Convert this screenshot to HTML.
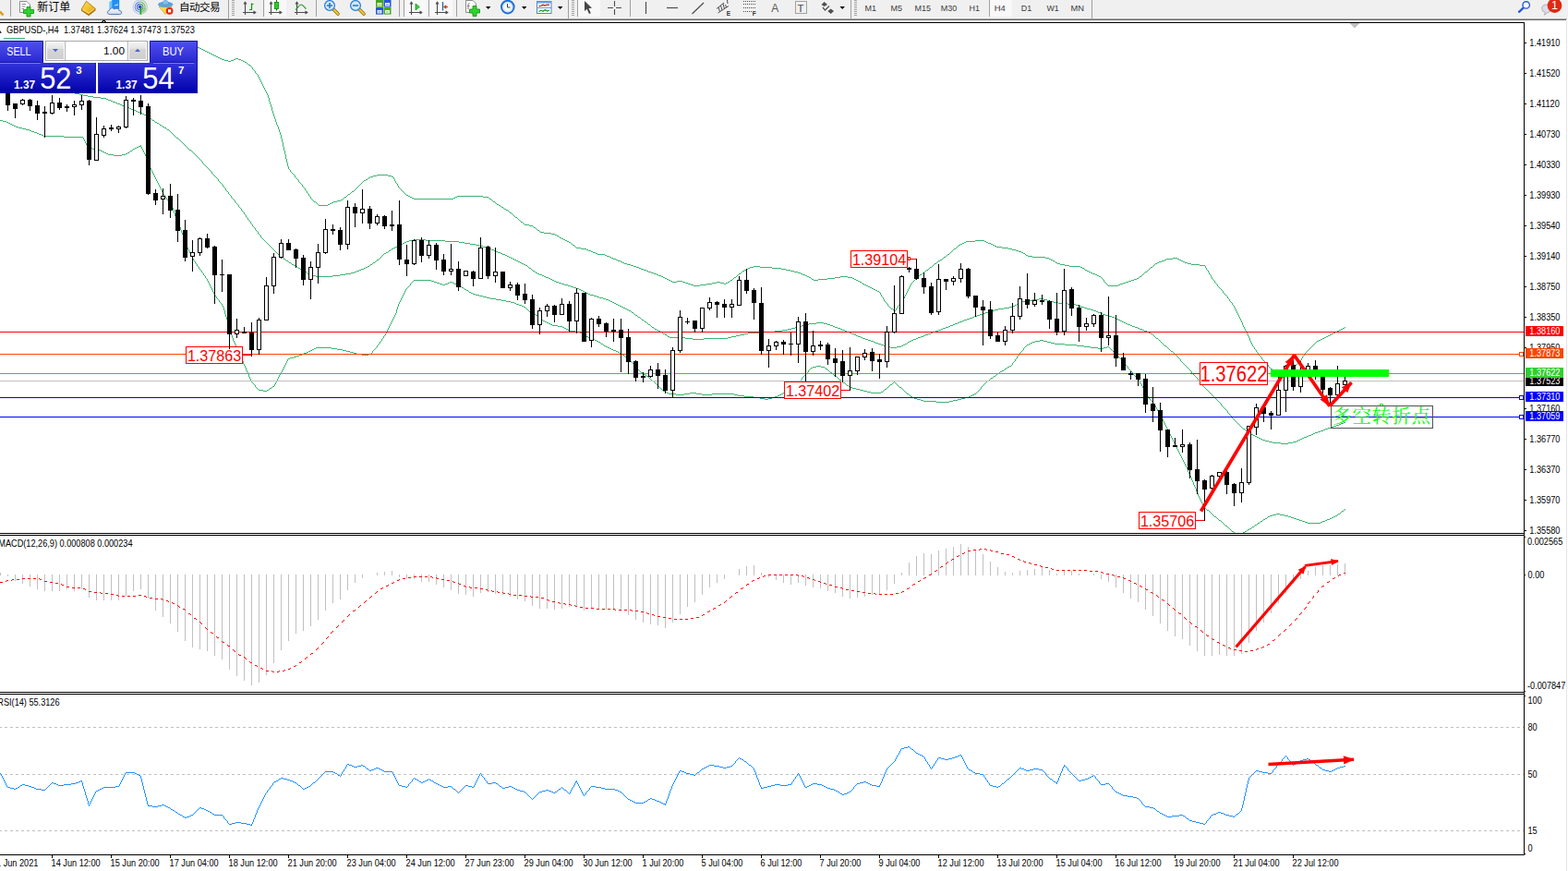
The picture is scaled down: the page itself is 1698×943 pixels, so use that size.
<!DOCTYPE html><html><head><meta charset="utf-8"><title>GBPUSD H4</title><style>html,body{margin:0;padding:0;background:#fff}body{width:1698px;height:943px;overflow:hidden;position:relative}</style></head><body><svg width="1698" height="943" viewBox="0 0 1698 943" font-family="Liberation Sans, sans-serif" style="position:absolute;left:0;top:0;display:block">
<rect x="0" y="0" width="1698" height="943" fill="#fff" />
<g shape-rendering="crispEdges">
<rect x="1696" y="22" width="1" height="921" fill="#e6e6e6" />
<rect x="4" y="41" width="23" height="1" fill="#3cb371" />
<path d="M214 51.5h2M216 52.5h2M218 53.5h2M220 54.5h2M222 55.5h2M224 56.5h2M226 57.5h2M228 58.5h2M230 59.5h2M232 60.5h2M234 61.5h2M236 62.5h2M238 63.5h2M255 63.5h3M240 64.5h3M253 64.5h2M258 64.5h3M243 65.5h4M250 65.5h3M261 65.5h2M247 66.5h3M263 66.5h2M265 67.5h2M269 70.5h2M408 189.5h12M404 190.5h4M420 190.5h4M401 191.5h3M424 191.5h2M399 192.5h2M396 194.5h2M394 195.5h2M381 207.5h2M377 210.5h2M440 211.5h2M442 212.5h2M495 212.5h28M373 213.5h2M444 213.5h2M493 213.5h2M523 213.5h6M446 214.5h2M491 214.5h2M448 215.5h43M530 215.5h2M369 216.5h2M365 217.5h4M340 218.5h2M361 218.5h4M534 218.5h2M359 219.5h2M357 220.5h2M355 221.5h2M538 221.5h2M345 222.5h10M540 222.5h2M543 224.5h2M546 226.5h2M548 227.5h2M552 230.5h2M558 235.5h2M564 240.5h2M568 243.5h5M573 244.5h4M578 246.5h2M582 249.5h2M585 251.5h4M589 252.5h8M597 253.5h4M601 254.5h2M603 255.5h2M606 257.5h2M608 258.5h2M610 259.5h2M612 260.5h2M1056 260.5h10M614 261.5h2M1046 261.5h10M1066 261.5h2M616 262.5h2M1044 262.5h2M1068 262.5h2M1042 263.5h2M1070 263.5h3M1040 264.5h2M1073 264.5h2M620 265.5h2M1038 265.5h2M1075 265.5h2M1077 266.5h2M1079 267.5h6M624 268.5h5M1085 268.5h7M629 269.5h6M1033 269.5h2M1092 269.5h4M635 270.5h2M1096 270.5h4M637 271.5h3M1100 271.5h3M640 272.5h2M1103 272.5h3M642 273.5h3M1106 273.5h2M645 274.5h2M1108 274.5h2M647 275.5h8M1026 275.5h2M655 276.5h2M1111 276.5h2M657 277.5h3M1113 277.5h5M660 278.5h2M1022 278.5h2M1118 278.5h14M662 279.5h2M1132 279.5h4M1270 279.5h5M664 280.5h3M1136 280.5h2M1263 280.5h7M1275 280.5h2M667 281.5h2M1018 281.5h2M1138 281.5h2M1261 281.5h2M1277 281.5h2M669 282.5h3M1016 282.5h2M1140 282.5h2M1258 282.5h3M1279 282.5h2M672 283.5h2M1255 283.5h3M1281 283.5h2M674 284.5h2M1143 284.5h2M1253 284.5h2M1283 284.5h3M676 285.5h3M1012 285.5h2M1145 285.5h3M1251 285.5h2M1286 285.5h4M679 286.5h4M1148 286.5h5M1290 286.5h9M683 287.5h3M1153 287.5h5M1299 287.5h6M686 288.5h3M816 288.5h7M1158 288.5h12M689 289.5h3M812 289.5h4M823 289.5h13M1007 289.5h2M1170 289.5h2M1246 289.5h2M692 290.5h2M810 290.5h2M836 290.5h10M1172 290.5h2M694 291.5h3M808 291.5h2M846 291.5h5M697 292.5h3M806 292.5h2M851 292.5h5M1003 292.5h2M1175 292.5h2M700 293.5h2M804 293.5h2M856 293.5h4M1177 293.5h2M702 294.5h3M860 294.5h4M1179 294.5h2M1240 294.5h2M705 295.5h3M864 295.5h3M999 295.5h2M1181 295.5h2M708 296.5h3M800 296.5h2M867 296.5h2M1183 296.5h3M711 297.5h2M869 297.5h3M996 297.5h2M1186 297.5h2M713 298.5h3M872 298.5h2M1188 298.5h2M716 299.5h2M874 299.5h2M910 299.5h8M1190 299.5h2M1234 299.5h2M718 300.5h2M795 300.5h2M876 300.5h2M904 300.5h6M918 300.5h5M720 301.5h2M896 301.5h8M923 301.5h2M1231 301.5h2M722 302.5h2M879 302.5h2M886 302.5h10M925 302.5h2M1228 302.5h3M724 303.5h2M791 303.5h2M881 303.5h5M927 303.5h2M1225 303.5h3M726 304.5h2M733 304.5h6M929 304.5h2M1222 304.5h3M728 305.5h5M739 305.5h3M776 305.5h4M788 305.5h2M931 305.5h2M1219 305.5h3M742 306.5h3M771 306.5h5M780 306.5h4M786 306.5h2M1216 306.5h3M745 307.5h3M765 307.5h6M784 307.5h2M934 307.5h2M1213 307.5h3M748 308.5h3M758 308.5h7M936 308.5h2M1211 308.5h2M751 309.5h7M938 309.5h2M1200 309.5h11M940 310.5h2M942 311.5h2M944 312.5h2M946 313.5h2M948 314.5h2M950 315.5h2M965 334.5h2M967 335.5h2M1454 355.5h2M1452 356.5h2M1450 357.5h2M1448 358.5h2M1446 359.5h2M1444 360.5h2M1442 361.5h2M1440 362.5h2M1438 363.5h2M1436 364.5h2M1434 365.5h2M1432 366.5h2M1430 367.5h2M1428 368.5h2M1426 369.5h2M1400 397.5h2M1376 399.5h2M1378 400.5h2M1396 400.5h2M1380 401.5h2M1382 402.5h3M1385 403.5h2M1392 403.5h2M1387 404.5h2M1389 405.5h2M267.5 68v1M268.5 69v1M271.5 71v1M272.5 72v1M273.5 73v2M274.5 75v1M275.5 76v1M276.5 77v2M277.5 79v1M278.5 80v1M279.5 81v2M280.5 83v2M281.5 85v2M282.5 87v2M283.5 89v2M284.5 91v2M285.5 93v2M286.5 95v2M287.5 97v2M288.5 99v2M289.5 101v2M290.5 103v3M291.5 106v4M292.5 110v3M293.5 113v3M294.5 116v4M295.5 120v3M296.5 123v3M297.5 126v3M298.5 129v3M299.5 132v3M300.5 135v2M301.5 137v3M302.5 140v3M303.5 143v3M304.5 146v4M305.5 150v4M306.5 154v5M307.5 159v4M308.5 163v4M309.5 167v5M310.5 172v4M311.5 176v4M312.5 180v3M313.5 183v1M314.5 184v2M315.5 186v1M316.5 187v1M317.5 188v1M318.5 189v1M319.5 190v2M320.5 192v1M321.5 193v1M322.5 194v1M323.5 195v2M324.5 197v1M325.5 198v1M326.5 199v1M327.5 200v2M328.5 202v1M329.5 203v1M330.5 204v2M331.5 206v1M332.5 207v2M333.5 209v1M334.5 210v2M335.5 212v1M336.5 213v2M337.5 215v1M338.5 216v1M339.5 217v1M342.5 219v1M343.5 220v1M344.5 221v1M371.5 215v1M372.5 214v1M375.5 212v1M376.5 211v1M379.5 209v1M380.5 208v1M383.5 206v1M384.5 205v1M385.5 204v1M386.5 203v1M387.5 202v1M388.5 201v1M389.5 200v1M390.5 199v1M391.5 198v1M392.5 197v1M393.5 196v1M398.5 193v1M426.5 192v2M427.5 194v2M428.5 196v2M429.5 198v1M430.5 199v2M431.5 201v2M432.5 203v1M433.5 204v1M434.5 205v1M435.5 206v1M436.5 207v1M437.5 208v1M438.5 209v1M439.5 210v1M529.5 214v1M532.5 216v1M533.5 217v1M536.5 219v1M537.5 220v1M542.5 223v1M545.5 225v1M550.5 228v1M551.5 229v1M554.5 231v1M555.5 232v1M556.5 233v1M557.5 234v1M560.5 236v1M561.5 237v1M562.5 238v1M563.5 239v1M566.5 241v1M567.5 242v1M577.5 245v1M580.5 247v1M581.5 248v1M584.5 250v1M605.5 256v1M618.5 263v1M619.5 264v1M622.5 266v1M623.5 267v1M790.5 304v1M793.5 302v1M794.5 301v1M797.5 299v1M798.5 298v1M799.5 297v1M802.5 295v1M803.5 294v1M878.5 301v1M933.5 306v1M952.5 316v1M953.5 317v2M954.5 319v2M955.5 321v1M956.5 322v2M957.5 324v2M958.5 326v1M959.5 327v1M960.5 328v1M961.5 329v2M962.5 331v1M963.5 332v1M964.5 333v1M969.5 336v1M970.5 334v2M971.5 333v1M972.5 331v2M973.5 330v1M974.5 329v1M975.5 327v2M976.5 326v1M977.5 324v2M978.5 323v1M979.5 321v2M980.5 319v2M981.5 317v2M982.5 315v2M983.5 313v2M984.5 311v2M985.5 309v2M986.5 307v2M987.5 306v1M988.5 305v1M989.5 304v1M990.5 303v1M991.5 302v1M992.5 301v1M993.5 300v1M994.5 299v1M995.5 298v1M998.5 296v1M1001.5 294v1M1002.5 293v1M1005.5 291v1M1006.5 290v1M1009.5 288v1M1010.5 287v1M1011.5 286v1M1014.5 284v1M1015.5 283v1M1020.5 280v1M1021.5 279v1M1024.5 277v1M1025.5 276v1M1028.5 274v1M1029.5 273v1M1030.5 272v1M1031.5 271v1M1032.5 270v1M1035.5 268v1M1036.5 267v1M1037.5 266v1M1110.5 275v1M1142.5 283v1M1174.5 291v1M1192.5 300v1M1193.5 301v1M1194.5 302v1M1195.5 303v2M1196.5 305v1M1197.5 306v1M1198.5 307v1M1199.5 308v1M1233.5 300v1M1236.5 298v1M1237.5 297v1M1238.5 296v1M1239.5 295v1M1242.5 293v1M1243.5 292v1M1244.5 291v1M1245.5 290v1M1248.5 288v1M1249.5 287v1M1250.5 286v1M1305.5 288v2M1306.5 290v2M1307.5 292v1M1308.5 293v2M1309.5 295v2M1310.5 297v1M1311.5 298v2M1312.5 300v2M1313.5 302v1M1314.5 303v1M1315.5 304v2M1316.5 306v1M1317.5 307v1M1318.5 308v2M1319.5 310v1M1320.5 311v1M1321.5 312v1M1322.5 313v1M1323.5 314v1M1324.5 315v2M1325.5 317v1M1326.5 318v1M1327.5 319v1M1328.5 320v1M1329.5 321v2M1330.5 323v1M1331.5 324v2M1332.5 326v1M1333.5 327v1M1334.5 328v2M1335.5 330v1M1336.5 331v2M1337.5 333v2M1338.5 335v2M1339.5 337v2M1340.5 339v2M1341.5 341v2M1342.5 343v2M1343.5 345v2M1344.5 347v2M1345.5 349v3M1346.5 352v2M1347.5 354v2M1348.5 356v2M1349.5 358v2M1350.5 360v2M1351.5 362v2M1352.5 364v2M1353.5 366v3M1354.5 369v2M1355.5 371v2M1356.5 373v2M1357.5 375v1M1358.5 376v2M1359.5 378v1M1360.5 379v2M1361.5 381v1M1362.5 382v2M1363.5 384v1M1364.5 385v1M1365.5 386v1M1366.5 387v2M1367.5 389v1M1368.5 390v1M1369.5 391v1M1370.5 392v1M1371.5 393v1M1372.5 394v1M1373.5 395v2M1374.5 397v1M1375.5 398v1M1391.5 404v1M1394.5 402v1M1395.5 401v1M1398.5 399v1M1399.5 398v1M1402.5 396v1M1403.5 395v1M1404.5 394v1M1405.5 393v1M1406.5 392v1M1407.5 391v1M1408.5 390v1M1409.5 388v2M1410.5 386v2M1411.5 385v1M1412.5 383v2M1413.5 382v1M1414.5 381v1M1415.5 380v1M1416.5 379v1M1417.5 378v1M1418.5 377v1M1419.5 376v1M1420.5 375v1M1421.5 374v1M1422.5 373v1M1423.5 372v1M1424.5 371v1M1425.5 370v1M1456.5 354v1" fill="none" stroke="#3cb371" stroke-width="1"/>
<path d="M0 85.5h3M3 86.5h6M9 87.5h5M14 88.5h6M20 89.5h5M25 90.5h6M31 91.5h5M36 92.5h5M41 93.5h6M47 94.5h5M52 95.5h6M58 96.5h5M63 97.5h4M67 98.5h5M72 99.5h5M77 100.5h4M81 101.5h5M86 102.5h4M90 103.5h5M95 104.5h6M101 105.5h8M109 106.5h6M115 107.5h2M117 108.5h3M120 109.5h2M122 110.5h3M125 111.5h2M127 112.5h3M130 113.5h2M132 114.5h3M135 115.5h2M137 116.5h3M140 117.5h2M142 118.5h3M145 119.5h2M147 120.5h2M149 121.5h3M152 122.5h2M154 123.5h2M156 124.5h2M158 125.5h2M161 127.5h2M165 130.5h2M168 132.5h2M170 133.5h2M173 135.5h2M176 137.5h2M178 138.5h2M181 140.5h2M191 149.5h2M205 162.5h2M448 259.5h13M443 260.5h5M461 260.5h21M440 261.5h3M482 261.5h15M438 262.5h2M497 262.5h6M436 263.5h2M503 263.5h6M434 264.5h2M509 264.5h6M432 265.5h2M515 265.5h4M430 266.5h2M519 266.5h4M428 267.5h2M523 267.5h4M426 268.5h2M527 268.5h3M424 269.5h2M530 269.5h2M532 270.5h3M421 271.5h2M535 271.5h2M537 272.5h2M418 273.5h2M539 273.5h3M416 274.5h2M542 274.5h2M544 275.5h3M547 276.5h2M549 277.5h2M304 278.5h2M551 278.5h2M553 279.5h2M307 280.5h2M555 280.5h2M408 281.5h2M557 281.5h2M310 282.5h2M559 282.5h2M561 283.5h2M313 284.5h2M404 284.5h2M563 284.5h2M565 285.5h2M316 286.5h2M401 286.5h2M567 286.5h2M318 287.5h2M569 287.5h2M320 288.5h2M398 288.5h2M396 289.5h2M323 290.5h2M394 290.5h2M573 290.5h2M325 291.5h2M391 291.5h3M389 292.5h2M328 293.5h2M386 293.5h3M577 293.5h2M330 294.5h2M384 294.5h2M380 295.5h4M580 295.5h2M333 296.5h2M374 296.5h6M582 296.5h2M335 297.5h3M368 297.5h6M584 297.5h3M338 298.5h4M360 298.5h8M587 298.5h2M342 299.5h18M589 299.5h2M591 300.5h3M594 301.5h2M596 302.5h2M598 303.5h2M600 304.5h2M602 305.5h3M605 306.5h3M608 307.5h3M611 308.5h4M615 309.5h3M618 310.5h3M621 311.5h3M624 312.5h3M627 313.5h2M629 314.5h2M631 315.5h2M633 316.5h2M635 317.5h2M637 318.5h2M639 319.5h4M643 320.5h3M646 321.5h3M649 322.5h4M653 323.5h3M1125 323.5h5M656 324.5h3M1118 324.5h7M1130 324.5h4M659 325.5h2M1112 325.5h6M1134 325.5h3M661 326.5h2M1107 326.5h5M1137 326.5h4M663 327.5h2M1105 327.5h2M1141 327.5h5M665 328.5h2M1103 328.5h2M1146 328.5h10M667 329.5h2M1101 329.5h2M1156 329.5h9M669 330.5h2M1099 330.5h2M1165 330.5h3M671 331.5h2M1097 331.5h2M1168 331.5h3M673 332.5h2M1093 332.5h4M1171 332.5h3M675 333.5h2M1087 333.5h6M1174 333.5h3M677 334.5h2M1081 334.5h6M1177 334.5h4M679 335.5h2M1077 335.5h4M1181 335.5h3M681 336.5h2M1074 336.5h3M1184 336.5h3M1071 337.5h3M1187 337.5h2M684 338.5h2M1067 338.5h4M1189 338.5h3M1064 339.5h3M1192 339.5h2M1061 340.5h3M1194 340.5h3M688 341.5h2M1058 341.5h3M1197 341.5h4M1055 342.5h3M1201 342.5h3M691 343.5h2M1053 343.5h2M1204 343.5h3M1050 344.5h3M1207 344.5h2M1047 345.5h3M1209 345.5h2M695 346.5h2M1044 346.5h3M1211 346.5h2M1042 347.5h2M1213 347.5h2M698 348.5h2M1039 348.5h3M1215 348.5h2M884 349.5h8M1037 349.5h2M1217 349.5h2M876 350.5h8M892 350.5h4M1034 350.5h3M1219 350.5h2M702 351.5h2M872 351.5h4M896 351.5h3M1032 351.5h2M1221 351.5h3M868 352.5h4M899 352.5h3M1029 352.5h3M1224 352.5h2M864 353.5h4M902 353.5h2M1027 353.5h2M1226 353.5h3M706 354.5h2M861 354.5h3M904 354.5h3M1024 354.5h3M1229 354.5h3M857 355.5h4M907 355.5h3M1021 355.5h3M1232 355.5h2M709 356.5h2M853 356.5h4M910 356.5h2M1019 356.5h2M1234 356.5h3M711 357.5h2M847 357.5h6M912 357.5h3M1016 357.5h3M1237 357.5h2M713 358.5h2M839 358.5h8M915 358.5h2M1013 358.5h3M1239 358.5h3M715 359.5h2M827 359.5h12M917 359.5h3M1010 359.5h3M1242 359.5h2M810 360.5h17M920 360.5h2M1008 360.5h2M1244 360.5h2M718 361.5h2M806 361.5h4M922 361.5h3M1005 361.5h3M1246 361.5h2M720 362.5h2M801 362.5h5M925 362.5h2M1002 362.5h3M797 363.5h4M927 363.5h2M1000 363.5h2M723 364.5h2M792 364.5h5M929 364.5h3M997 364.5h3M725 365.5h17M788 365.5h4M932 365.5h2M994 365.5h3M742 366.5h8M762 366.5h26M934 366.5h3M992 366.5h2M1252 366.5h2M750 367.5h12M937 367.5h3M989 367.5h3M940 368.5h3M987 368.5h2M943 369.5h3M985 369.5h2M946 370.5h2M983 370.5h2M948 371.5h3M951 372.5h3M980 372.5h2M954 373.5h3M978 373.5h2M957 374.5h4M976 374.5h2M1261 374.5h2M961 375.5h3M971 375.5h5M964 376.5h7M1268 380.5h2M1455 457.5h2M1452 458.5h3M1450 459.5h2M1447 460.5h3M1444 461.5h3M1441 462.5h3M1438 463.5h3M1346 464.5h2M1435 464.5h3M1433 465.5h2M1349 466.5h2M1430 466.5h3M1427 467.5h3M1424 468.5h3M1353 469.5h2M1422 469.5h2M1355 470.5h2M1420 470.5h2M1357 471.5h2M1417 471.5h3M1359 472.5h2M1415 472.5h2M1361 473.5h2M1412 473.5h3M1363 474.5h2M1410 474.5h2M1365 475.5h2M1408 475.5h2M1367 476.5h3M1406 476.5h2M1370 477.5h4M1404 477.5h2M1374 478.5h4M1400 478.5h4M1378 479.5h9M1395 479.5h5M1387 480.5h8M160.5 126v1M163.5 128v1M164.5 129v1M167.5 131v1M172.5 134v1M175.5 136v1M180.5 139v1M183.5 141v1M184.5 142v1M185.5 143v1M186.5 144v1M187.5 145v1M188.5 146v1M189.5 147v1M190.5 148v1M193.5 150v1M194.5 151v1M195.5 152v1M196.5 153v1M197.5 154v1M198.5 155v1M199.5 156v1M200.5 157v1M201.5 158v1M202.5 159v1M203.5 160v1M204.5 161v1M207.5 163v1M208.5 164v1M209.5 165v1M210.5 166v1M211.5 167v1M212.5 168v1M213.5 169v1M214.5 170v1M215.5 171v1M216.5 172v1M217.5 173v1M218.5 174v1M219.5 175v2M220.5 177v1M221.5 178v1M222.5 179v1M223.5 180v1M224.5 181v1M225.5 182v1M226.5 183v1M227.5 184v1M228.5 185v1M229.5 186v2M230.5 188v1M231.5 189v1M232.5 190v1M233.5 191v1M234.5 192v1M235.5 193v1M236.5 194v2M237.5 196v1M238.5 197v1M239.5 198v1M240.5 199v1M241.5 200v2M242.5 202v1M243.5 203v1M244.5 204v2M245.5 206v1M246.5 207v1M247.5 208v2M248.5 210v1M249.5 211v1M250.5 212v2M251.5 214v1M252.5 215v1M253.5 216v1M254.5 217v2M255.5 219v1M256.5 220v1M257.5 221v1M258.5 222v2M259.5 224v1M260.5 225v1M261.5 226v2M262.5 228v1M263.5 229v1M264.5 230v2M265.5 232v1M266.5 233v2M267.5 235v1M268.5 236v2M269.5 238v1M270.5 239v1M271.5 240v2M272.5 242v1M273.5 243v2M274.5 245v1M275.5 246v1M276.5 247v2M277.5 249v1M278.5 250v1M279.5 251v2M280.5 253v1M281.5 254v1M282.5 255v2M283.5 257v1M284.5 258v1M285.5 259v1M286.5 260v1M287.5 261v1M288.5 262v1M289.5 263v1M290.5 264v1M291.5 265v1M292.5 266v1M293.5 267v1M294.5 268v1M295.5 269v1M296.5 270v1M297.5 271v1M298.5 272v1M299.5 273v1M300.5 274v1M301.5 275v1M302.5 276v1M303.5 277v1M306.5 279v1M309.5 281v1M312.5 283v1M315.5 285v1M322.5 289v1M327.5 292v1M332.5 295v1M400.5 287v1M403.5 285v1M406.5 283v1M407.5 282v1M410.5 280v1M411.5 279v1M412.5 278v1M413.5 277v1M414.5 276v1M415.5 275v1M420.5 272v1M423.5 270v1M571.5 288v1M572.5 289v1M575.5 291v1M576.5 292v1M579.5 294v1M683.5 337v1M686.5 339v1M687.5 340v1M690.5 342v1M693.5 344v1M694.5 345v1M697.5 347v1M700.5 349v1M701.5 350v1M704.5 352v1M705.5 353v1M708.5 355v1M717.5 360v1M722.5 363v1M982.5 371v1M1248.5 362v1M1249.5 363v1M1250.5 364v1M1251.5 365v1M1254.5 367v1M1255.5 368v1M1256.5 369v1M1257.5 370v1M1258.5 371v1M1259.5 372v1M1260.5 373v1M1263.5 375v1M1264.5 376v1M1265.5 377v1M1266.5 378v1M1267.5 379v1M1270.5 381v1M1271.5 382v1M1272.5 383v1M1273.5 384v1M1274.5 385v1M1275.5 386v1M1276.5 387v1M1277.5 388v1M1278.5 389v2M1279.5 391v1M1280.5 392v1M1281.5 393v1M1282.5 394v1M1283.5 395v1M1284.5 396v1M1285.5 397v1M1286.5 398v1M1287.5 399v1M1288.5 400v1M1289.5 401v1M1290.5 402v2M1291.5 404v1M1292.5 405v1M1293.5 406v1M1294.5 407v1M1295.5 408v1M1296.5 409v1M1297.5 410v2M1298.5 412v1M1299.5 413v1M1300.5 414v1M1301.5 415v1M1302.5 416v2M1303.5 418v1M1304.5 419v1M1305.5 420v1M1306.5 421v1M1307.5 422v1M1308.5 423v1M1309.5 424v1M1310.5 425v1M1311.5 426v1M1312.5 427v1M1313.5 428v1M1314.5 429v1M1315.5 430v1M1316.5 431v1M1317.5 432v1M1318.5 433v1M1319.5 434v1M1320.5 435v1M1321.5 436v1M1322.5 437v2M1323.5 439v1M1324.5 440v1M1325.5 441v1M1326.5 442v1M1327.5 443v1M1328.5 444v1M1329.5 445v2M1330.5 447v1M1331.5 448v1M1332.5 449v1M1333.5 450v1M1334.5 451v2M1335.5 453v1M1336.5 454v1M1337.5 455v1M1338.5 456v1M1339.5 457v1M1340.5 458v1M1341.5 459v1M1342.5 460v1M1343.5 461v1M1344.5 462v1M1345.5 463v1M1348.5 465v1M1351.5 467v1M1352.5 468v1" fill="none" stroke="#3cb371" stroke-width="1"/>
<path d="M0 130.5h3M3 131.5h4M7 132.5h2M9 133.5h2M11 134.5h2M13 135.5h2M15 136.5h2M17 137.5h3M20 138.5h4M24 139.5h4M28 140.5h4M32 141.5h2M34 142.5h3M37 143.5h3M40 144.5h2M42 145.5h3M45 146.5h2M47 147.5h22M69 148.5h21M95 158.5h2M150 158.5h3M148 159.5h2M98 160.5h2M146 160.5h2M100 161.5h4M144 161.5h2M104 162.5h5M109 163.5h2M141 163.5h2M111 164.5h2M113 165.5h2M138 165.5h2M115 166.5h2M136 166.5h2M117 167.5h6M132 167.5h4M123 168.5h9M448 303.5h19M467 304.5h3M470 305.5h3M487 305.5h3M473 306.5h3M485 306.5h2M490 306.5h2M476 307.5h3M482 307.5h3M492 307.5h2M479 308.5h3M494 308.5h2M496 309.5h2M498 310.5h2M500 311.5h2M503 313.5h2M505 314.5h2M508 316.5h2M510 317.5h2M512 318.5h3M515 319.5h4M519 320.5h4M523 321.5h4M527 322.5h4M531 323.5h6M537 324.5h6M543 325.5h5M548 326.5h5M553 327.5h4M557 328.5h2M559 329.5h3M562 330.5h3M565 331.5h2M567 332.5h2M574 338.5h2M576 339.5h2M578 340.5h2M580 341.5h2M584 344.5h2M588 347.5h2M590 348.5h2M592 349.5h2M594 350.5h2M596 351.5h2M598 352.5h6M604 353.5h5M609 354.5h2M611 355.5h2M613 356.5h2M615 357.5h2M617 358.5h6M623 359.5h5M628 360.5h2M630 361.5h2M633 363.5h2M635 364.5h2M637 365.5h2M639 366.5h3M642 367.5h2M644 368.5h2M1126 368.5h4M646 369.5h2M1121 369.5h5M1130 369.5h4M648 370.5h2M1118 370.5h3M1134 370.5h4M1116 371.5h2M1138 371.5h4M651 372.5h2M1114 372.5h2M1142 372.5h11M1112 373.5h2M1153 373.5h13M654 374.5h2M1166 374.5h8M656 375.5h2M1174 375.5h7M1199 375.5h2M342 376.5h17M658 376.5h2M1181 376.5h8M1195 376.5h4M340 377.5h2M359 377.5h6M660 377.5h2M1189 377.5h6M338 378.5h2M365 378.5h6M662 378.5h2M336 379.5h2M371 379.5h4M664 379.5h3M334 380.5h2M375 380.5h4M667 380.5h2M332 381.5h2M379 381.5h4M669 381.5h2M329 382.5h3M383 382.5h3M671 382.5h2M327 383.5h2M386 383.5h6M399 383.5h3M324 384.5h3M392 384.5h7M674 384.5h2M321 385.5h3M318 386.5h3M314 387.5h4M312 388.5h2M680 389.5h2M884 396.5h5M1093 396.5h2M880 397.5h4M889 397.5h4M1091 397.5h2M878 398.5h2M894 399.5h2M1088 399.5h2M1085 401.5h2M1083 402.5h2M694 403.5h2M899 403.5h2M1080 404.5h2M697 405.5h2M700 407.5h2M904 407.5h2M1076 407.5h2M1073 409.5h2M909 411.5h2M706 412.5h2M1069 412.5h2M913 414.5h2M862 415.5h2M964 416.5h2M917 417.5h2M295 418.5h2M858 418.5h2M920 419.5h3M974 419.5h2M292 420.5h2M923 420.5h4M854 421.5h2M927 421.5h4M958 421.5h2M280 422.5h5M289 422.5h2M931 422.5h4M285 423.5h4M718 423.5h2M851 423.5h2M935 423.5h4M720 424.5h2M939 424.5h4M954 424.5h2M722 425.5h2M747 425.5h7M848 425.5h2M943 425.5h11M724 426.5h8M741 426.5h6M754 426.5h6M771 426.5h24M846 426.5h2M982 426.5h2M1055 426.5h2M732 427.5h9M760 427.5h11M795 427.5h4M844 427.5h2M1053 427.5h2M799 428.5h7M842 428.5h2M1051 428.5h2M806 429.5h10M839 429.5h3M986 429.5h2M1049 429.5h2M816 430.5h7M836 430.5h3M988 430.5h2M1045 430.5h4M823 431.5h5M832 431.5h4M990 431.5h3M1041 431.5h4M828 432.5h4M993 432.5h4M1037 432.5h4M997 433.5h3M1032 433.5h5M1000 434.5h14M1028 434.5h4M1014 435.5h14M1307 552.5h2M1453 553.5h2M1382 556.5h4M1449 556.5h2M1378 557.5h4M1386 557.5h5M1375 558.5h3M1391 558.5h4M1446 558.5h2M1315 559.5h2M1373 559.5h2M1395 559.5h3M1444 559.5h2M1398 560.5h3M1442 560.5h2M1370 561.5h2M1401 561.5h3M1440 561.5h2M1368 562.5h2M1404 562.5h3M1437 562.5h3M1320 563.5h2M1407 563.5h3M1435 563.5h2M1365 564.5h2M1410 564.5h3M1432 564.5h3M1413 565.5h3M1430 565.5h2M1362 566.5h2M1416 566.5h14M1359 568.5h2M1327 569.5h2M1356 570.5h2M1353 572.5h2M1351 573.5h2M1334 575.5h2M1348 575.5h2M1346 576.5h2M1337 577.5h9M90.5 149v2M91.5 151v2M92.5 153v2M93.5 155v2M94.5 157v1M97.5 159v1M140.5 164v1M143.5 162v1M152.5 157v1M153.5 159v2M154.5 161v2M155.5 163v2M156.5 165v2M157.5 167v2M158.5 169v3M159.5 172v2M160.5 174v3M161.5 177v2M162.5 179v3M163.5 182v2M164.5 184v2M165.5 186v2M166.5 188v2M167.5 190v2M168.5 192v2M169.5 194v2M170.5 196v2M171.5 198v2M172.5 200v2M173.5 202v2M174.5 204v2M175.5 206v2M176.5 208v2M177.5 210v1M178.5 211v2M179.5 213v1M180.5 214v2M181.5 216v1M182.5 217v2M183.5 219v1M184.5 220v2M185.5 222v1M186.5 223v2M187.5 225v2M188.5 227v4M189.5 231v3M190.5 234v3M191.5 237v2M192.5 239v3M193.5 242v2M194.5 244v2M195.5 246v3M196.5 249v3M197.5 252v2M198.5 254v3M199.5 257v3M200.5 260v3M201.5 263v2M202.5 265v3M203.5 268v2M204.5 270v2M205.5 272v2M206.5 274v2M207.5 276v2M208.5 278v2M209.5 280v2M210.5 282v1M211.5 283v2M212.5 285v1M213.5 286v2M214.5 288v1M215.5 289v2M216.5 291v1M217.5 292v1M218.5 293v2M219.5 295v1M220.5 296v2M221.5 298v1M222.5 299v2M223.5 301v1M224.5 302v2M225.5 304v2M226.5 306v2M227.5 308v2M228.5 310v2M229.5 312v2M230.5 314v2M231.5 316v2M232.5 318v2M233.5 320v1M234.5 321v2M235.5 323v1M236.5 324v1M237.5 325v2M238.5 327v1M239.5 328v1M240.5 329v2M241.5 331v2M242.5 333v3M243.5 336v4M244.5 340v3M245.5 343v3M246.5 346v3M247.5 349v4M248.5 353v3M249.5 356v3M250.5 359v4M251.5 363v3M252.5 366v3M253.5 369v2M254.5 371v2M255.5 373v2M256.5 375v2M257.5 377v2M258.5 379v3M259.5 382v2M260.5 384v2M261.5 386v3M262.5 389v2M263.5 391v3M264.5 394v2M265.5 396v2M266.5 398v3M267.5 401v2M268.5 403v2M269.5 405v3M270.5 408v2M271.5 410v2M272.5 412v2M273.5 414v1M274.5 415v1M275.5 416v1M276.5 417v2M277.5 419v1M278.5 420v1M279.5 421v1M291.5 421v1M294.5 419v1M297.5 416v2M298.5 414v2M299.5 412v2M300.5 410v2M301.5 408v2M302.5 406v2M303.5 405v1M304.5 403v2M305.5 401v2M306.5 399v2M307.5 397v2M308.5 395v2M309.5 393v2M310.5 391v2M311.5 389v2M402.5 382v1M403.5 380v2M404.5 379v1M405.5 378v1M406.5 377v1M407.5 376v1M408.5 374v2M409.5 373v1M410.5 372v1M411.5 370v2M412.5 369v1M413.5 367v2M414.5 366v1M415.5 364v2M416.5 363v1M417.5 361v2M418.5 359v2M419.5 357v2M420.5 355v2M421.5 353v2M422.5 351v2M423.5 349v2M424.5 347v2M425.5 345v2M426.5 343v2M427.5 341v2M428.5 339v2M429.5 335v4M430.5 332v3M431.5 329v3M432.5 327v2M433.5 325v2M434.5 323v2M435.5 321v2M436.5 319v2M437.5 317v2M438.5 315v2M439.5 313v2M440.5 312v1M441.5 311v1M442.5 310v1M443.5 309v1M444.5 307v2M445.5 306v1M446.5 305v1M447.5 304v1M502.5 312v1M507.5 315v1M569.5 333v1M570.5 334v1M571.5 335v1M572.5 336v1M573.5 337v1M582.5 342v1M583.5 343v1M586.5 345v1M587.5 346v1M632.5 362v1M650.5 371v1M653.5 373v1M673.5 383v1M676.5 385v1M677.5 386v1M678.5 387v1M679.5 388v1M682.5 390v1M683.5 391v1M684.5 392v1M685.5 393v1M686.5 394v1M687.5 395v1M688.5 396v2M689.5 398v1M690.5 399v1M691.5 400v1M692.5 401v1M693.5 402v1M696.5 404v1M699.5 406v1M702.5 408v1M703.5 409v1M704.5 410v1M705.5 411v1M708.5 413v1M709.5 414v1M710.5 415v1M711.5 416v1M712.5 417v1M713.5 418v1M714.5 419v1M715.5 420v1M716.5 421v1M717.5 422v1M850.5 424v1M853.5 422v1M856.5 420v1M857.5 419v1M860.5 417v1M861.5 416v1M864.5 414v1M865.5 413v1M866.5 412v1M867.5 411v1M868.5 409v2M869.5 408v1M870.5 407v1M871.5 406v1M872.5 405v1M873.5 404v1M874.5 403v1M875.5 401v2M876.5 400v1M877.5 399v1M893.5 398v1M896.5 400v1M897.5 401v1M898.5 402v1M901.5 404v1M902.5 405v1M903.5 406v1M906.5 408v1M907.5 409v1M908.5 410v1M911.5 412v1M912.5 413v1M915.5 415v1M916.5 416v1M919.5 418v1M956.5 423v1M957.5 422v1M960.5 420v1M961.5 419v1M962.5 418v1M963.5 417v1M966.5 415v1M967.5 414v1M968.5 413v1M969.5 414v1M970.5 415v1M971.5 416v1M972.5 417v1M973.5 418v1M976.5 420v1M977.5 421v1M978.5 422v1M979.5 423v1M980.5 424v1M981.5 425v1M984.5 427v1M985.5 428v1M1057.5 425v1M1058.5 424v1M1059.5 423v1M1060.5 422v1M1061.5 421v1M1062.5 419v2M1063.5 418v1M1064.5 417v1M1065.5 416v1M1066.5 415v1M1067.5 414v1M1068.5 413v1M1071.5 411v1M1072.5 410v1M1075.5 408v1M1078.5 406v1M1079.5 405v1M1082.5 403v1M1087.5 400v1M1090.5 398v1M1095.5 395v1M1096.5 393v2M1097.5 392v1M1098.5 391v1M1099.5 389v2M1100.5 388v1M1101.5 386v2M1102.5 385v1M1103.5 384v1M1104.5 382v2M1105.5 381v1M1106.5 380v1M1107.5 379v1M1108.5 377v2M1109.5 376v1M1110.5 375v1M1111.5 374v1M1201.5 376v1M1202.5 377v1M1203.5 378v1M1204.5 379v1M1205.5 380v1M1206.5 381v1M1207.5 382v1M1208.5 383v1M1209.5 384v1M1210.5 385v1M1211.5 386v1M1212.5 387v1M1213.5 388v1M1214.5 389v1M1215.5 390v1M1216.5 391v1M1217.5 392v2M1218.5 394v1M1219.5 395v1M1220.5 396v1M1221.5 397v2M1222.5 399v1M1223.5 400v1M1224.5 401v1M1225.5 402v1M1226.5 403v1M1227.5 404v2M1228.5 406v1M1229.5 407v1M1230.5 408v1M1231.5 409v1M1232.5 410v1M1233.5 411v2M1234.5 413v2M1235.5 415v1M1236.5 416v2M1237.5 418v2M1238.5 420v2M1239.5 422v2M1240.5 424v2M1241.5 426v2M1242.5 428v1M1243.5 429v1M1244.5 430v2M1245.5 432v1M1246.5 433v1M1247.5 434v1M1248.5 435v2M1249.5 437v1M1250.5 438v1M1251.5 439v2M1252.5 441v2M1253.5 443v2M1254.5 445v2M1255.5 447v2M1256.5 449v2M1257.5 451v2M1258.5 453v1M1259.5 454v2M1260.5 456v2M1261.5 458v2M1262.5 460v2M1263.5 462v2M1264.5 464v2M1265.5 466v2M1266.5 468v2M1267.5 470v2M1268.5 472v2M1269.5 474v2M1270.5 476v2M1271.5 478v2M1272.5 480v2M1273.5 482v2M1274.5 484v2M1275.5 486v2M1276.5 488v2M1277.5 490v2M1278.5 492v2M1279.5 494v2M1280.5 496v2M1281.5 498v2M1282.5 500v2M1283.5 502v2M1284.5 504v2M1285.5 506v2M1286.5 508v3M1287.5 511v2M1288.5 513v2M1289.5 515v2M1290.5 517v3M1291.5 520v2M1292.5 522v3M1293.5 525v2M1294.5 527v2M1295.5 529v3M1296.5 532v2M1297.5 534v3M1298.5 537v2M1299.5 539v2M1300.5 541v2M1301.5 543v2M1302.5 545v2M1303.5 547v2M1304.5 549v1M1305.5 550v1M1306.5 551v1M1309.5 553v1M1310.5 554v1M1311.5 555v1M1312.5 556v1M1313.5 557v1M1314.5 558v1M1317.5 560v1M1318.5 561v1M1319.5 562v1M1322.5 564v1M1323.5 565v1M1324.5 566v1M1325.5 567v1M1326.5 568v1M1329.5 570v1M1330.5 571v1M1331.5 572v1M1332.5 573v1M1333.5 574v1M1336.5 576v1M1350.5 574v1M1355.5 571v1M1358.5 569v1M1361.5 567v1M1364.5 565v1M1367.5 563v1M1372.5 560v1M1448.5 557v1M1451.5 555v1M1452.5 554v1M1455.5 552v1M1456.5 551v1" fill="none" stroke="#3cb371" stroke-width="1"/>
<rect x="0" y="359" width="1650" height="1" fill="#ff0000" />
<rect x="0" y="383" width="1650" height="1" fill="#ff4500" />
<rect x="0" y="404" width="1650" height="1" fill="#32cd32" />
<rect x="0" y="412" width="1650" height="1" fill="#c0c0c0" />
<rect x="0" y="430" width="1650" height="1" fill="#0000ff" />
<rect x="0" y="451" width="1650" height="1" fill="#0000ff" />
<rect x="1645" y="381" width="5" height="5" fill="#ff4500" />
<rect x="1646" y="382" width="3" height="3" fill="#fff" />
<rect x="1645" y="428" width="5" height="5" fill="#0000ff" />
<rect x="1646" y="429" width="3" height="3" fill="#fff" />
<rect x="1645" y="449" width="5" height="5" fill="#0000ff" />
<rect x="1646" y="450" width="3" height="3" fill="#fff" />
</g>
<g shape-rendering="crispEdges">
<rect x="263" y="384" width="9" height="1" fill="#ff0000" />
<rect x="263" y="383" width="9" height="1" fill="#ff0000" />
<rect x="983" y="280" width="10" height="1" fill="#ff0000" />
<rect x="983" y="278" width="3" height="4" fill="#ff0000" />
<rect x="984" y="279" width="1" height="2" fill="#fff" />
<rect x="911" y="422" width="10" height="1" fill="#ff0000" />
<rect x="1295" y="563" width="10" height="1" fill="#ff0000" />
<rect x="1289" y="404" width="11" height="1" fill="#ff0000" />
</g>
<rect x="201.5" y="375.5" width="61" height="18" fill="#fff" stroke="#ff0000" stroke-width="1" shape-rendering="crispEdges"/>
<text x="232.0" y="391.0384" font-size="16.1" fill="#ff0000" text-anchor="middle" >1.37863</text>
<rect x="921.5" y="271.5" width="61" height="18" fill="#fff" stroke="#ff0000" stroke-width="1" shape-rendering="crispEdges"/>
<text x="952.0" y="287.0384" font-size="16.1" fill="#ff0000" text-anchor="middle" >1.39104</text>
<rect x="849.5" y="413.5" width="61" height="18" fill="#fff" stroke="#ff0000" stroke-width="1" shape-rendering="crispEdges"/>
<text x="880.0" y="429.0384" font-size="16.1" fill="#ff0000" text-anchor="middle" >1.37402</text>
<rect x="1233.5" y="554.5" width="61" height="18" fill="#fff" stroke="#ff0000" stroke-width="1" shape-rendering="crispEdges"/>
<text x="1264.0" y="570.0384" font-size="16.1" fill="#ff0000" text-anchor="middle" >1.35706</text>
<rect x="1299.5" y="392.5" width="73" height="24" fill="#fff" stroke="#ff0000" stroke-width="1" shape-rendering="crispEdges"/>
<text transform="translate(1336.0,413.4808) scale(0.872,1)" font-size="23.2" fill="#ff0000" text-anchor="middle" >1.37622</text>
<g shape-rendering="crispEdges">
<rect x="8" y="101" width="1" height="19" fill="#000" />
<rect x="6" y="101" width="5" height="13" fill="#000" />
<rect x="16" y="112" width="1" height="16" fill="#000" />
<rect x="14" y="112" width="5" height="6" fill="#000" />
<rect x="24" y="107" width="1" height="7" fill="#000" />
<rect x="22" y="108" width="5" height="5" fill="#000" />
<rect x="23" y="109" width="3" height="3" fill="#fff" />
<rect x="32" y="107" width="1" height="13" fill="#000" />
<rect x="30" y="108" width="5" height="7" fill="#000" />
<rect x="40" y="109" width="1" height="21" fill="#000" />
<rect x="38" y="114" width="5" height="9" fill="#000" />
<rect x="48" y="115" width="1" height="34" fill="#000" />
<rect x="46" y="121" width="5" height="2" fill="#000" />
<rect x="56" y="103" width="1" height="21" fill="#000" />
<rect x="54" y="111" width="5" height="12" fill="#000" />
<rect x="55" y="112" width="3" height="10" fill="#fff" />
<rect x="64" y="106" width="1" height="13" fill="#000" />
<rect x="62" y="111" width="5" height="6" fill="#000" />
<rect x="72" y="113" width="1" height="8" fill="#000" />
<rect x="70" y="115" width="5" height="2" fill="#000" />
<rect x="80" y="109" width="1" height="16" fill="#000" />
<rect x="78" y="113" width="5" height="3" fill="#000" />
<rect x="79" y="114" width="3" height="1" fill="#fff" />
<rect x="88" y="103" width="1" height="16" fill="#000" />
<rect x="86" y="109" width="5" height="5" fill="#000" />
<rect x="87" y="110" width="3" height="3" fill="#fff" />
<rect x="96" y="108" width="1" height="71" fill="#000" />
<rect x="94" y="109" width="5" height="64" fill="#000" />
<rect x="104" y="127" width="1" height="47" fill="#000" />
<rect x="102" y="145" width="5" height="29" fill="#000" />
<rect x="103" y="146" width="3" height="27" fill="#fff" />
<rect x="112" y="136" width="1" height="13" fill="#000" />
<rect x="110" y="139" width="5" height="8" fill="#000" />
<rect x="111" y="140" width="3" height="6" fill="#fff" />
<rect x="120" y="135" width="1" height="7" fill="#000" />
<rect x="118" y="138" width="5" height="2" fill="#000" />
<rect x="128" y="136" width="1" height="8" fill="#000" />
<rect x="126" y="137" width="5" height="3" fill="#000" />
<rect x="127" y="138" width="3" height="1" fill="#fff" />
<rect x="136" y="104" width="1" height="35" fill="#000" />
<rect x="134" y="108" width="5" height="30" fill="#000" />
<rect x="135" y="109" width="3" height="28" fill="#fff" />
<rect x="144" y="106" width="1" height="19" fill="#000" />
<rect x="142" y="108" width="5" height="2" fill="#000" />
<rect x="152" y="103" width="1" height="21" fill="#000" />
<rect x="150" y="109" width="5" height="7" fill="#000" />
<rect x="160" y="112" width="1" height="99" fill="#000" />
<rect x="158" y="115" width="5" height="95" fill="#000" />
<rect x="168" y="205" width="1" height="17" fill="#000" />
<rect x="166" y="209" width="5" height="8" fill="#000" />
<rect x="176" y="204" width="1" height="28" fill="#000" />
<rect x="174" y="212" width="5" height="4" fill="#000" />
<rect x="175" y="213" width="3" height="2" fill="#fff" />
<rect x="184" y="199" width="1" height="37" fill="#000" />
<rect x="182" y="212" width="5" height="16" fill="#000" />
<rect x="192" y="210" width="1" height="52" fill="#000" />
<rect x="190" y="227" width="5" height="23" fill="#000" />
<rect x="200" y="238" width="1" height="45" fill="#000" />
<rect x="198" y="249" width="5" height="30" fill="#000" />
<rect x="208" y="260" width="1" height="34" fill="#000" />
<rect x="206" y="273" width="5" height="5" fill="#000" />
<rect x="207" y="274" width="3" height="3" fill="#fff" />
<rect x="216" y="257" width="1" height="20" fill="#000" />
<rect x="214" y="258" width="5" height="16" fill="#000" />
<rect x="215" y="259" width="3" height="14" fill="#fff" />
<rect x="224" y="253" width="1" height="16" fill="#000" />
<rect x="222" y="258" width="5" height="10" fill="#000" />
<rect x="232" y="266" width="1" height="63" fill="#000" />
<rect x="230" y="267" width="5" height="31" fill="#000" />
<rect x="240" y="281" width="1" height="35" fill="#000" />
<rect x="238" y="297" width="5" height="1" fill="#000" />
<rect x="248" y="297" width="1" height="81" fill="#000" />
<rect x="246" y="297" width="5" height="65" fill="#000" />
<rect x="256" y="345" width="1" height="21" fill="#000" />
<rect x="254" y="357" width="5" height="5" fill="#000" />
<rect x="255" y="358" width="3" height="3" fill="#fff" />
<rect x="264" y="354" width="1" height="7" fill="#000" />
<rect x="262" y="359" width="5" height="2" fill="#000" />
<rect x="272" y="349" width="1" height="37" fill="#000" />
<rect x="270" y="360" width="5" height="19" fill="#000" />
<rect x="280" y="344" width="1" height="40" fill="#000" />
<rect x="278" y="346" width="5" height="33" fill="#000" />
<rect x="279" y="347" width="3" height="31" fill="#fff" />
<rect x="288" y="300" width="1" height="47" fill="#000" />
<rect x="286" y="309" width="5" height="38" fill="#000" />
<rect x="287" y="310" width="3" height="36" fill="#fff" />
<rect x="296" y="274" width="1" height="44" fill="#000" />
<rect x="294" y="278" width="5" height="32" fill="#000" />
<rect x="295" y="279" width="3" height="30" fill="#fff" />
<rect x="304" y="259" width="1" height="21" fill="#000" />
<rect x="302" y="263" width="5" height="16" fill="#000" />
<rect x="303" y="264" width="3" height="14" fill="#fff" />
<rect x="312" y="259" width="1" height="12" fill="#000" />
<rect x="310" y="263" width="5" height="8" fill="#000" />
<rect x="320" y="269" width="1" height="21" fill="#000" />
<rect x="318" y="270" width="5" height="10" fill="#000" />
<rect x="328" y="276" width="1" height="33" fill="#000" />
<rect x="326" y="279" width="5" height="24" fill="#000" />
<rect x="336" y="283" width="1" height="41" fill="#000" />
<rect x="334" y="289" width="5" height="14" fill="#000" />
<rect x="335" y="290" width="3" height="12" fill="#fff" />
<rect x="344" y="264" width="1" height="43" fill="#000" />
<rect x="342" y="273" width="5" height="17" fill="#000" />
<rect x="343" y="274" width="3" height="15" fill="#fff" />
<rect x="352" y="237" width="1" height="38" fill="#000" />
<rect x="350" y="248" width="5" height="26" fill="#000" />
<rect x="351" y="249" width="3" height="24" fill="#fff" />
<rect x="360" y="243" width="1" height="11" fill="#000" />
<rect x="358" y="248" width="5" height="2" fill="#000" />
<rect x="368" y="246" width="1" height="25" fill="#000" />
<rect x="366" y="249" width="5" height="16" fill="#000" />
<rect x="376" y="217" width="1" height="53" fill="#000" />
<rect x="374" y="224" width="5" height="41" fill="#000" />
<rect x="375" y="225" width="3" height="39" fill="#fff" />
<rect x="384" y="220" width="1" height="26" fill="#000" />
<rect x="382" y="224" width="5" height="7" fill="#000" />
<rect x="392" y="205" width="1" height="37" fill="#000" />
<rect x="390" y="226" width="5" height="5" fill="#000" />
<rect x="391" y="227" width="3" height="3" fill="#fff" />
<rect x="400" y="223" width="1" height="25" fill="#000" />
<rect x="398" y="226" width="5" height="16" fill="#000" />
<rect x="408" y="232" width="1" height="12" fill="#000" />
<rect x="406" y="234" width="5" height="8" fill="#000" />
<rect x="407" y="235" width="3" height="6" fill="#fff" />
<rect x="416" y="233" width="1" height="15" fill="#000" />
<rect x="414" y="234" width="5" height="11" fill="#000" />
<rect x="424" y="228" width="1" height="22" fill="#000" />
<rect x="422" y="243" width="5" height="2" fill="#000" />
<rect x="432" y="217" width="1" height="70" fill="#000" />
<rect x="430" y="243" width="5" height="38" fill="#000" />
<rect x="440" y="265" width="1" height="34" fill="#000" />
<rect x="438" y="281" width="5" height="5" fill="#000" />
<rect x="448" y="259" width="1" height="28" fill="#000" />
<rect x="446" y="260" width="5" height="26" fill="#000" />
<rect x="447" y="261" width="3" height="24" fill="#fff" />
<rect x="456" y="257" width="1" height="27" fill="#000" />
<rect x="454" y="260" width="5" height="17" fill="#000" />
<rect x="464" y="260" width="1" height="20" fill="#000" />
<rect x="462" y="265" width="5" height="12" fill="#000" />
<rect x="463" y="266" width="3" height="10" fill="#fff" />
<rect x="472" y="263" width="1" height="29" fill="#000" />
<rect x="470" y="265" width="5" height="17" fill="#000" />
<rect x="480" y="275" width="1" height="23" fill="#000" />
<rect x="478" y="281" width="5" height="13" fill="#000" />
<rect x="488" y="264" width="1" height="34" fill="#000" />
<rect x="486" y="291" width="5" height="3" fill="#000" />
<rect x="487" y="292" width="3" height="1" fill="#fff" />
<rect x="496" y="283" width="1" height="32" fill="#000" />
<rect x="494" y="291" width="5" height="20" fill="#000" />
<rect x="504" y="293" width="1" height="6" fill="#000" />
<rect x="502" y="293" width="5" height="6" fill="#000" />
<rect x="503" y="294" width="3" height="4" fill="#fff" />
<rect x="512" y="293" width="1" height="17" fill="#000" />
<rect x="510" y="294" width="5" height="8" fill="#000" />
<rect x="520" y="257" width="1" height="45" fill="#000" />
<rect x="518" y="268" width="5" height="34" fill="#000" />
<rect x="519" y="269" width="3" height="32" fill="#fff" />
<rect x="528" y="266" width="1" height="36" fill="#000" />
<rect x="526" y="267" width="5" height="32" fill="#000" />
<rect x="536" y="268" width="1" height="38" fill="#000" />
<rect x="534" y="294" width="5" height="5" fill="#000" />
<rect x="535" y="295" width="3" height="3" fill="#fff" />
<rect x="544" y="294" width="1" height="18" fill="#000" />
<rect x="542" y="294" width="5" height="18" fill="#000" />
<rect x="552" y="305" width="1" height="10" fill="#000" />
<rect x="550" y="308" width="5" height="4" fill="#000" />
<rect x="551" y="309" width="3" height="2" fill="#fff" />
<rect x="560" y="306" width="1" height="19" fill="#000" />
<rect x="558" y="308" width="5" height="12" fill="#000" />
<rect x="568" y="307" width="1" height="22" fill="#000" />
<rect x="566" y="318" width="5" height="7" fill="#000" />
<rect x="576" y="319" width="1" height="37" fill="#000" />
<rect x="574" y="324" width="5" height="28" fill="#000" />
<rect x="584" y="333" width="1" height="29" fill="#000" />
<rect x="582" y="336" width="5" height="16" fill="#000" />
<rect x="583" y="337" width="3" height="14" fill="#fff" />
<rect x="592" y="329" width="1" height="14" fill="#000" />
<rect x="590" y="331" width="5" height="6" fill="#000" />
<rect x="591" y="332" width="3" height="4" fill="#fff" />
<rect x="600" y="330" width="1" height="19" fill="#000" />
<rect x="598" y="331" width="5" height="10" fill="#000" />
<rect x="608" y="323" width="1" height="18" fill="#000" />
<rect x="606" y="329" width="5" height="12" fill="#000" />
<rect x="607" y="330" width="3" height="10" fill="#fff" />
<rect x="616" y="326" width="1" height="33" fill="#000" />
<rect x="614" y="329" width="5" height="19" fill="#000" />
<rect x="624" y="312" width="1" height="49" fill="#000" />
<rect x="622" y="317" width="5" height="31" fill="#000" />
<rect x="623" y="318" width="3" height="29" fill="#fff" />
<rect x="632" y="317" width="1" height="53" fill="#000" />
<rect x="630" y="317" width="5" height="53" fill="#000" />
<rect x="640" y="344" width="1" height="32" fill="#000" />
<rect x="638" y="345" width="5" height="24" fill="#000" />
<rect x="639" y="346" width="3" height="22" fill="#fff" />
<rect x="648" y="342" width="1" height="12" fill="#000" />
<rect x="646" y="345" width="5" height="6" fill="#000" />
<rect x="656" y="349" width="1" height="16" fill="#000" />
<rect x="654" y="350" width="5" height="9" fill="#000" />
<rect x="664" y="345" width="1" height="25" fill="#000" />
<rect x="662" y="357" width="5" height="2" fill="#000" />
<rect x="672" y="345" width="1" height="58" fill="#000" />
<rect x="670" y="357" width="5" height="9" fill="#000" />
<rect x="680" y="356" width="1" height="49" fill="#000" />
<rect x="678" y="365" width="5" height="27" fill="#000" />
<rect x="688" y="390" width="1" height="23" fill="#000" />
<rect x="686" y="391" width="5" height="18" fill="#000" />
<rect x="696" y="403" width="1" height="11" fill="#000" />
<rect x="694" y="407" width="5" height="2" fill="#000" />
<rect x="704" y="396" width="1" height="13" fill="#000" />
<rect x="702" y="400" width="5" height="8" fill="#000" />
<rect x="703" y="401" width="3" height="6" fill="#fff" />
<rect x="712" y="393" width="1" height="28" fill="#000" />
<rect x="710" y="400" width="5" height="7" fill="#000" />
<rect x="720" y="400" width="1" height="26" fill="#000" />
<rect x="718" y="406" width="5" height="17" fill="#000" />
<rect x="728" y="376" width="1" height="55" fill="#000" />
<rect x="726" y="379" width="5" height="44" fill="#000" />
<rect x="727" y="380" width="3" height="42" fill="#fff" />
<rect x="736" y="336" width="1" height="46" fill="#000" />
<rect x="734" y="343" width="5" height="37" fill="#000" />
<rect x="735" y="344" width="3" height="35" fill="#fff" />
<rect x="744" y="344" width="1" height="7" fill="#000" />
<rect x="742" y="348" width="5" height="1" fill="#000" />
<rect x="752" y="347" width="1" height="13" fill="#000" />
<rect x="750" y="347" width="5" height="9" fill="#000" />
<rect x="760" y="333" width="1" height="27" fill="#000" />
<rect x="758" y="333" width="5" height="23" fill="#000" />
<rect x="759" y="334" width="3" height="21" fill="#fff" />
<rect x="768" y="322" width="1" height="14" fill="#000" />
<rect x="766" y="327" width="5" height="7" fill="#000" />
<rect x="767" y="328" width="3" height="5" fill="#fff" />
<rect x="776" y="326" width="1" height="18" fill="#000" />
<rect x="774" y="327" width="5" height="3" fill="#000" />
<rect x="784" y="324" width="1" height="20" fill="#000" />
<rect x="782" y="329" width="5" height="4" fill="#000" />
<rect x="792" y="324" width="1" height="20" fill="#000" />
<rect x="790" y="329" width="5" height="4" fill="#000" />
<rect x="791" y="330" width="3" height="2" fill="#fff" />
<rect x="800" y="299" width="1" height="32" fill="#000" />
<rect x="798" y="303" width="5" height="28" fill="#000" />
<rect x="799" y="304" width="3" height="26" fill="#fff" />
<rect x="808" y="291" width="1" height="27" fill="#000" />
<rect x="806" y="303" width="5" height="12" fill="#000" />
<rect x="816" y="312" width="1" height="34" fill="#000" />
<rect x="814" y="314" width="5" height="14" fill="#000" />
<rect x="824" y="311" width="1" height="73" fill="#000" />
<rect x="822" y="328" width="5" height="52" fill="#000" />
<rect x="832" y="367" width="1" height="31" fill="#000" />
<rect x="830" y="374" width="5" height="6" fill="#000" />
<rect x="831" y="375" width="3" height="4" fill="#fff" />
<rect x="840" y="369" width="1" height="10" fill="#000" />
<rect x="838" y="370" width="5" height="5" fill="#000" />
<rect x="839" y="371" width="3" height="3" fill="#fff" />
<rect x="848" y="368" width="1" height="16" fill="#000" />
<rect x="846" y="370" width="5" height="3" fill="#000" />
<rect x="856" y="360" width="1" height="25" fill="#000" />
<rect x="854" y="372" width="5" height="1" fill="#000" />
<rect x="864" y="343" width="1" height="50" fill="#000" />
<rect x="862" y="348" width="5" height="25" fill="#000" />
<rect x="863" y="349" width="3" height="23" fill="#fff" />
<rect x="872" y="339" width="1" height="74" fill="#000" />
<rect x="870" y="348" width="5" height="33" fill="#000" />
<rect x="880" y="358" width="1" height="27" fill="#000" />
<rect x="878" y="374" width="5" height="7" fill="#000" />
<rect x="879" y="375" width="3" height="5" fill="#fff" />
<rect x="888" y="369" width="1" height="10" fill="#000" />
<rect x="886" y="373" width="5" height="2" fill="#000" />
<rect x="896" y="371" width="1" height="24" fill="#000" />
<rect x="894" y="373" width="5" height="16" fill="#000" />
<rect x="904" y="377" width="1" height="31" fill="#000" />
<rect x="902" y="388" width="5" height="5" fill="#000" />
<rect x="912" y="379" width="1" height="35" fill="#000" />
<rect x="910" y="391" width="5" height="16" fill="#000" />
<rect x="920" y="376" width="1" height="47" fill="#000" />
<rect x="918" y="401" width="5" height="6" fill="#000" />
<rect x="919" y="402" width="3" height="4" fill="#fff" />
<rect x="928" y="386" width="1" height="20" fill="#000" />
<rect x="926" y="386" width="5" height="16" fill="#000" />
<rect x="927" y="387" width="3" height="14" fill="#fff" />
<rect x="936" y="378" width="1" height="12" fill="#000" />
<rect x="934" y="382" width="5" height="5" fill="#000" />
<rect x="935" y="383" width="3" height="3" fill="#fff" />
<rect x="944" y="377" width="1" height="25" fill="#000" />
<rect x="942" y="381" width="5" height="10" fill="#000" />
<rect x="952" y="383" width="1" height="27" fill="#000" />
<rect x="950" y="389" width="5" height="3" fill="#000" />
<rect x="960" y="353" width="1" height="45" fill="#000" />
<rect x="958" y="359" width="5" height="33" fill="#000" />
<rect x="959" y="360" width="3" height="31" fill="#fff" />
<rect x="968" y="309" width="1" height="52" fill="#000" />
<rect x="966" y="339" width="5" height="21" fill="#000" />
<rect x="967" y="340" width="3" height="19" fill="#fff" />
<rect x="976" y="298" width="1" height="42" fill="#000" />
<rect x="974" y="299" width="5" height="41" fill="#000" />
<rect x="975" y="300" width="3" height="39" fill="#fff" />
<rect x="984" y="289" width="1" height="6" fill="#000" />
<rect x="982" y="290" width="5" height="2" fill="#000" />
<rect x="992" y="280" width="1" height="23" fill="#000" />
<rect x="990" y="291" width="5" height="11" fill="#000" />
<rect x="1000" y="295" width="1" height="23" fill="#000" />
<rect x="998" y="301" width="5" height="10" fill="#000" />
<rect x="1008" y="306" width="1" height="35" fill="#000" />
<rect x="1006" y="310" width="5" height="29" fill="#000" />
<rect x="1016" y="286" width="1" height="55" fill="#000" />
<rect x="1014" y="302" width="5" height="36" fill="#000" />
<rect x="1015" y="303" width="3" height="34" fill="#fff" />
<rect x="1024" y="302" width="1" height="12" fill="#000" />
<rect x="1022" y="302" width="5" height="3" fill="#000" />
<rect x="1032" y="299" width="1" height="10" fill="#000" />
<rect x="1030" y="301" width="5" height="4" fill="#000" />
<rect x="1031" y="302" width="3" height="2" fill="#fff" />
<rect x="1040" y="285" width="1" height="21" fill="#000" />
<rect x="1038" y="291" width="5" height="11" fill="#000" />
<rect x="1039" y="292" width="3" height="9" fill="#fff" />
<rect x="1048" y="290" width="1" height="33" fill="#000" />
<rect x="1046" y="291" width="5" height="30" fill="#000" />
<rect x="1056" y="320" width="1" height="23" fill="#000" />
<rect x="1054" y="320" width="5" height="13" fill="#000" />
<rect x="1064" y="325" width="1" height="49" fill="#000" />
<rect x="1062" y="332" width="5" height="4" fill="#000" />
<rect x="1072" y="326" width="1" height="41" fill="#000" />
<rect x="1070" y="335" width="5" height="29" fill="#000" />
<rect x="1080" y="360" width="1" height="10" fill="#000" />
<rect x="1078" y="363" width="5" height="7" fill="#000" />
<rect x="1088" y="353" width="1" height="21" fill="#000" />
<rect x="1086" y="357" width="5" height="13" fill="#000" />
<rect x="1087" y="358" width="3" height="11" fill="#fff" />
<rect x="1096" y="328" width="1" height="33" fill="#000" />
<rect x="1094" y="342" width="5" height="16" fill="#000" />
<rect x="1095" y="343" width="3" height="14" fill="#fff" />
<rect x="1104" y="310" width="1" height="36" fill="#000" />
<rect x="1102" y="323" width="5" height="20" fill="#000" />
<rect x="1103" y="324" width="3" height="18" fill="#fff" />
<rect x="1112" y="296" width="1" height="38" fill="#000" />
<rect x="1110" y="324" width="5" height="6" fill="#000" />
<rect x="1120" y="317" width="1" height="15" fill="#000" />
<rect x="1118" y="325" width="5" height="5" fill="#000" />
<rect x="1119" y="326" width="3" height="3" fill="#fff" />
<rect x="1128" y="319" width="1" height="11" fill="#000" />
<rect x="1126" y="325" width="5" height="2" fill="#000" />
<rect x="1136" y="325" width="1" height="31" fill="#000" />
<rect x="1134" y="326" width="5" height="20" fill="#000" />
<rect x="1144" y="317" width="1" height="46" fill="#000" />
<rect x="1142" y="345" width="5" height="15" fill="#000" />
<rect x="1152" y="291" width="1" height="72" fill="#000" />
<rect x="1150" y="314" width="5" height="45" fill="#000" />
<rect x="1151" y="315" width="3" height="43" fill="#fff" />
<rect x="1160" y="311" width="1" height="31" fill="#000" />
<rect x="1158" y="313" width="5" height="21" fill="#000" />
<rect x="1168" y="330" width="1" height="40" fill="#000" />
<rect x="1166" y="333" width="5" height="21" fill="#000" />
<rect x="1176" y="344" width="1" height="14" fill="#000" />
<rect x="1174" y="350" width="5" height="4" fill="#000" />
<rect x="1175" y="351" width="3" height="2" fill="#fff" />
<rect x="1184" y="340" width="1" height="14" fill="#000" />
<rect x="1182" y="341" width="5" height="10" fill="#000" />
<rect x="1183" y="342" width="3" height="8" fill="#fff" />
<rect x="1192" y="338" width="1" height="43" fill="#000" />
<rect x="1190" y="341" width="5" height="25" fill="#000" />
<rect x="1200" y="321" width="1" height="53" fill="#000" />
<rect x="1198" y="363" width="5" height="3" fill="#000" />
<rect x="1199" y="364" width="3" height="1" fill="#fff" />
<rect x="1208" y="341" width="1" height="56" fill="#000" />
<rect x="1206" y="363" width="5" height="25" fill="#000" />
<rect x="1216" y="382" width="1" height="19" fill="#000" />
<rect x="1214" y="387" width="5" height="14" fill="#000" />
<rect x="1224" y="402" width="1" height="9" fill="#000" />
<rect x="1222" y="404" width="5" height="2" fill="#000" />
<rect x="1232" y="404" width="1" height="14" fill="#000" />
<rect x="1230" y="404" width="5" height="7" fill="#000" />
<rect x="1240" y="405" width="1" height="42" fill="#000" />
<rect x="1238" y="410" width="5" height="28" fill="#000" />
<rect x="1248" y="419" width="1" height="38" fill="#000" />
<rect x="1246" y="437" width="5" height="8" fill="#000" />
<rect x="1256" y="436" width="1" height="53" fill="#000" />
<rect x="1254" y="444" width="5" height="22" fill="#000" />
<rect x="1264" y="465" width="1" height="30" fill="#000" />
<rect x="1262" y="465" width="5" height="19" fill="#000" />
<rect x="1272" y="474" width="1" height="10" fill="#000" />
<rect x="1270" y="482" width="5" height="2" fill="#000" />
<rect x="1280" y="465" width="1" height="25" fill="#000" />
<rect x="1278" y="481" width="5" height="3" fill="#000" />
<rect x="1279" y="482" width="3" height="1" fill="#fff" />
<rect x="1288" y="479" width="1" height="39" fill="#000" />
<rect x="1286" y="481" width="5" height="28" fill="#000" />
<rect x="1296" y="476" width="1" height="59" fill="#000" />
<rect x="1294" y="508" width="5" height="13" fill="#000" />
<rect x="1304" y="519" width="1" height="45" fill="#000" />
<rect x="1302" y="520" width="5" height="10" fill="#000" />
<rect x="1312" y="514" width="1" height="18" fill="#000" />
<rect x="1310" y="515" width="5" height="14" fill="#000" />
<rect x="1311" y="516" width="3" height="12" fill="#fff" />
<rect x="1320" y="511" width="1" height="8" fill="#000" />
<rect x="1318" y="511" width="5" height="5" fill="#000" />
<rect x="1319" y="512" width="3" height="3" fill="#fff" />
<rect x="1328" y="510" width="1" height="25" fill="#000" />
<rect x="1326" y="511" width="5" height="14" fill="#000" />
<rect x="1336" y="523" width="1" height="25" fill="#000" />
<rect x="1334" y="524" width="5" height="10" fill="#000" />
<rect x="1344" y="507" width="1" height="37" fill="#000" />
<rect x="1342" y="522" width="5" height="12" fill="#000" />
<rect x="1343" y="523" width="3" height="10" fill="#fff" />
<rect x="1352" y="461" width="1" height="64" fill="#000" />
<rect x="1350" y="461" width="5" height="62" fill="#000" />
<rect x="1351" y="462" width="3" height="60" fill="#fff" />
<rect x="1360" y="437" width="1" height="34" fill="#000" />
<rect x="1358" y="441" width="5" height="22" fill="#000" />
<rect x="1359" y="442" width="3" height="20" fill="#fff" />
<rect x="1368" y="438" width="1" height="19" fill="#000" />
<rect x="1366" y="441" width="5" height="7" fill="#000" />
<rect x="1376" y="445" width="1" height="20" fill="#000" />
<rect x="1374" y="447" width="5" height="3" fill="#000" />
<rect x="1384" y="405" width="1" height="45" fill="#000" />
<rect x="1382" y="422" width="5" height="28" fill="#000" />
<rect x="1383" y="423" width="3" height="26" fill="#fff" />
<rect x="1392" y="395" width="1" height="51" fill="#000" />
<rect x="1390" y="396" width="5" height="27" fill="#000" />
<rect x="1391" y="397" width="3" height="25" fill="#fff" />
<rect x="1400" y="385" width="1" height="38" fill="#000" />
<rect x="1398" y="395" width="5" height="24" fill="#000" />
<rect x="1408" y="391" width="1" height="34" fill="#000" />
<rect x="1406" y="403" width="5" height="16" fill="#000" />
<rect x="1407" y="404" width="3" height="14" fill="#fff" />
<rect x="1416" y="393" width="1" height="13" fill="#000" />
<rect x="1414" y="396" width="5" height="9" fill="#000" />
<rect x="1415" y="397" width="3" height="7" fill="#fff" />
<rect x="1424" y="390" width="1" height="21" fill="#000" />
<rect x="1422" y="396" width="5" height="8" fill="#000" />
<rect x="1432" y="403" width="1" height="26" fill="#000" />
<rect x="1430" y="403" width="5" height="19" fill="#000" />
<rect x="1440" y="419" width="1" height="20" fill="#000" />
<rect x="1438" y="420" width="5" height="8" fill="#000" />
<rect x="1448" y="396" width="1" height="32" fill="#000" />
<rect x="1446" y="415" width="5" height="13" fill="#000" />
<rect x="1447" y="416" width="3" height="11" fill="#fff" />
<rect x="1456" y="403" width="1" height="14" fill="#000" />
<rect x="1454" y="412" width="5" height="5" fill="#000" />
<rect x="1455" y="413" width="3" height="3" fill="#fff" />
</g>
<rect x="1441.5" y="439.5" width="110" height="24" fill="none" stroke="#505050" stroke-width="1" shape-rendering="crispEdges"/>
<text x="1443" y="458" font-size="20.5" fill="#00ff00" text-anchor="start" textLength="106" lengthAdjust="spacing" style="font-family:'Liberation Serif','Noto Serif CJK SC',serif">多空转折点</text>
<path d="M1494.5,439V437.5H1497.5V439" fill="none" stroke="#00ff00" stroke-width="1"/>
<line x1="1300.5" y1="553.5" x2="1401.5" y2="384.5" stroke="#ff0000" stroke-width="3.7" stroke-linecap="butt"/>
<polygon points="1401.9,383.8 1399.5,396.7 1391.7,392.0" fill="#ff0000"/>
<line x1="1401.5" y1="384.5" x2="1440" y2="439.8" stroke="#ff0000" stroke-width="3.7" stroke-linecap="butt"/>
<polygon points="1440.5,440.5 1429.4,432.6 1436.9,427.3" fill="#ff0000"/>
<line x1="1440" y1="439.5" x2="1463.5" y2="414.2" stroke="#ff0000" stroke-width="3.7" stroke-linecap="butt"/>
<polygon points="1464.0,413.6 1459.2,425.2 1452.9,419.3" fill="#ff0000"/>
<rect x="1376" y="400" width="128" height="8" fill="#00ff00" shape-rendering="crispEdges"/>
<g shape-rendering="crispEdges">
<rect x="0" y="24" width="1651" height="1" fill="#000" />
<rect x="1650" y="24" width="1" height="902" fill="#000" />
<rect x="0" y="577" width="1651" height="1" fill="#000" />
<rect x="0" y="579" width="1651" height="1" fill="#000" />
<rect x="0" y="749" width="1651" height="1" fill="#000" />
<rect x="0" y="751" width="1651" height="1" fill="#000" />
<rect x="0" y="925" width="1651" height="1" fill="#000" />
<rect x="1651" y="25" width="45" height="900" fill="#fff" />
<polygon points="1461,25 1472,25 1466.5,30.5" fill="#c0c0c0"/>
<path d="M110,24.5L112.5,22.2L115,24.5" fill="none" stroke="#000" stroke-width="1"/>
</g>
<g shape-rendering="crispEdges">
<rect x="0" y="620" width="1" height="3" fill="#c0c0c0" />
<rect x="8" y="622" width="1" height="2" fill="#c0c0c0" />
<rect x="16" y="622" width="1" height="7" fill="#c0c0c0" />
<rect x="24" y="622" width="1" height="10" fill="#c0c0c0" />
<rect x="32" y="622" width="1" height="13" fill="#c0c0c0" />
<rect x="40" y="622" width="1" height="16" fill="#c0c0c0" />
<rect x="48" y="622" width="1" height="18" fill="#c0c0c0" />
<rect x="56" y="622" width="1" height="18" fill="#c0c0c0" />
<rect x="64" y="622" width="1" height="18" fill="#c0c0c0" />
<rect x="72" y="622" width="1" height="16" fill="#c0c0c0" />
<rect x="80" y="622" width="1" height="18" fill="#c0c0c0" />
<rect x="88" y="622" width="1" height="16" fill="#c0c0c0" />
<rect x="96" y="622" width="1" height="25" fill="#c0c0c0" />
<rect x="104" y="622" width="1" height="28" fill="#c0c0c0" />
<rect x="112" y="622" width="1" height="28" fill="#c0c0c0" />
<rect x="120" y="622" width="1" height="28" fill="#c0c0c0" />
<rect x="128" y="622" width="1" height="28" fill="#c0c0c0" />
<rect x="136" y="622" width="1" height="23" fill="#c0c0c0" />
<rect x="144" y="622" width="1" height="18" fill="#c0c0c0" />
<rect x="152" y="622" width="1" height="16" fill="#c0c0c0" />
<rect x="160" y="622" width="1" height="26" fill="#c0c0c0" />
<rect x="168" y="622" width="1" height="39" fill="#c0c0c0" />
<rect x="176" y="622" width="1" height="46" fill="#c0c0c0" />
<rect x="184" y="622" width="1" height="53" fill="#c0c0c0" />
<rect x="192" y="622" width="1" height="62" fill="#c0c0c0" />
<rect x="200" y="622" width="1" height="72" fill="#c0c0c0" />
<rect x="208" y="622" width="1" height="79" fill="#c0c0c0" />
<rect x="216" y="622" width="1" height="81" fill="#c0c0c0" />
<rect x="224" y="622" width="1" height="83" fill="#c0c0c0" />
<rect x="232" y="622" width="1" height="88" fill="#c0c0c0" />
<rect x="240" y="622" width="1" height="92" fill="#c0c0c0" />
<rect x="248" y="622" width="1" height="103" fill="#c0c0c0" />
<rect x="256" y="622" width="1" height="110" fill="#c0c0c0" />
<rect x="264" y="622" width="1" height="115" fill="#c0c0c0" />
<rect x="272" y="622" width="1" height="120" fill="#c0c0c0" />
<rect x="280" y="622" width="1" height="117" fill="#c0c0c0" />
<rect x="288" y="622" width="1" height="109" fill="#c0c0c0" />
<rect x="296" y="622" width="1" height="96" fill="#c0c0c0" />
<rect x="304" y="622" width="1" height="82" fill="#c0c0c0" />
<rect x="312" y="622" width="1" height="72" fill="#c0c0c0" />
<rect x="320" y="622" width="1" height="64" fill="#c0c0c0" />
<rect x="328" y="622" width="1" height="61" fill="#c0c0c0" />
<rect x="336" y="622" width="1" height="56" fill="#c0c0c0" />
<rect x="344" y="622" width="1" height="49" fill="#c0c0c0" />
<rect x="352" y="622" width="1" height="39" fill="#c0c0c0" />
<rect x="360" y="622" width="1" height="31" fill="#c0c0c0" />
<rect x="368" y="622" width="1" height="27" fill="#c0c0c0" />
<rect x="376" y="622" width="1" height="17" fill="#c0c0c0" />
<rect x="384" y="622" width="1" height="9" fill="#c0c0c0" />
<rect x="392" y="622" width="1" height="4" fill="#c0c0c0" />
<rect x="408" y="620" width="1" height="3" fill="#c0c0c0" />
<rect x="416" y="619" width="1" height="4" fill="#c0c0c0" />
<rect x="424" y="618" width="1" height="5" fill="#c0c0c0" />
<rect x="432" y="622" width="1" height="3" fill="#c0c0c0" />
<rect x="440" y="622" width="1" height="5" fill="#c0c0c0" />
<rect x="448" y="622" width="1" height="5" fill="#c0c0c0" />
<rect x="456" y="622" width="1" height="8" fill="#c0c0c0" />
<rect x="464" y="622" width="1" height="8" fill="#c0c0c0" />
<rect x="472" y="622" width="1" height="11" fill="#c0c0c0" />
<rect x="480" y="622" width="1" height="14" fill="#c0c0c0" />
<rect x="488" y="622" width="1" height="17" fill="#c0c0c0" />
<rect x="496" y="622" width="1" height="21" fill="#c0c0c0" />
<rect x="504" y="622" width="1" height="22" fill="#c0c0c0" />
<rect x="512" y="622" width="1" height="24" fill="#c0c0c0" />
<rect x="520" y="622" width="1" height="20" fill="#c0c0c0" />
<rect x="528" y="622" width="1" height="19" fill="#c0c0c0" />
<rect x="536" y="622" width="1" height="21" fill="#c0c0c0" />
<rect x="544" y="622" width="1" height="22" fill="#c0c0c0" />
<rect x="552" y="622" width="1" height="24" fill="#c0c0c0" />
<rect x="560" y="622" width="1" height="27" fill="#c0c0c0" />
<rect x="568" y="622" width="1" height="29" fill="#c0c0c0" />
<rect x="576" y="622" width="1" height="34" fill="#c0c0c0" />
<rect x="584" y="622" width="1" height="37" fill="#c0c0c0" />
<rect x="592" y="622" width="1" height="37" fill="#c0c0c0" />
<rect x="600" y="622" width="1" height="38" fill="#c0c0c0" />
<rect x="608" y="622" width="1" height="37" fill="#c0c0c0" />
<rect x="616" y="622" width="1" height="35" fill="#c0c0c0" />
<rect x="624" y="622" width="1" height="34" fill="#c0c0c0" />
<rect x="632" y="622" width="1" height="39" fill="#c0c0c0" />
<rect x="640" y="622" width="1" height="37" fill="#c0c0c0" />
<rect x="648" y="622" width="1" height="37" fill="#c0c0c0" />
<rect x="656" y="622" width="1" height="38" fill="#c0c0c0" />
<rect x="664" y="622" width="1" height="39" fill="#c0c0c0" />
<rect x="672" y="622" width="1" height="40" fill="#c0c0c0" />
<rect x="680" y="622" width="1" height="44" fill="#c0c0c0" />
<rect x="688" y="622" width="1" height="49" fill="#c0c0c0" />
<rect x="696" y="622" width="1" height="52" fill="#c0c0c0" />
<rect x="704" y="622" width="1" height="54" fill="#c0c0c0" />
<rect x="712" y="622" width="1" height="55" fill="#c0c0c0" />
<rect x="720" y="622" width="1" height="58" fill="#c0c0c0" />
<rect x="728" y="622" width="1" height="52" fill="#c0c0c0" />
<rect x="736" y="622" width="1" height="43" fill="#c0c0c0" />
<rect x="744" y="622" width="1" height="35" fill="#c0c0c0" />
<rect x="752" y="622" width="1" height="30" fill="#c0c0c0" />
<rect x="760" y="622" width="1" height="22" fill="#c0c0c0" />
<rect x="768" y="622" width="1" height="14" fill="#c0c0c0" />
<rect x="776" y="622" width="1" height="9" fill="#c0c0c0" />
<rect x="784" y="622" width="1" height="5" fill="#c0c0c0" />
<rect x="800" y="616" width="1" height="7" fill="#c0c0c0" />
<rect x="808" y="613" width="1" height="10" fill="#c0c0c0" />
<rect x="816" y="612" width="1" height="11" fill="#c0c0c0" />
<rect x="824" y="620" width="1" height="3" fill="#c0c0c0" />
<rect x="832" y="622" width="1" height="3" fill="#c0c0c0" />
<rect x="840" y="622" width="1" height="6" fill="#c0c0c0" />
<rect x="848" y="622" width="1" height="9" fill="#c0c0c0" />
<rect x="856" y="622" width="1" height="11" fill="#c0c0c0" />
<rect x="864" y="622" width="1" height="9" fill="#c0c0c0" />
<rect x="872" y="622" width="1" height="12" fill="#c0c0c0" />
<rect x="880" y="622" width="1" height="14" fill="#c0c0c0" />
<rect x="888" y="622" width="1" height="15" fill="#c0c0c0" />
<rect x="896" y="622" width="1" height="18" fill="#c0c0c0" />
<rect x="904" y="622" width="1" height="20" fill="#c0c0c0" />
<rect x="912" y="622" width="1" height="24" fill="#c0c0c0" />
<rect x="920" y="622" width="1" height="26" fill="#c0c0c0" />
<rect x="928" y="622" width="1" height="25" fill="#c0c0c0" />
<rect x="936" y="622" width="1" height="24" fill="#c0c0c0" />
<rect x="944" y="622" width="1" height="22" fill="#c0c0c0" />
<rect x="952" y="622" width="1" height="21" fill="#c0c0c0" />
<rect x="960" y="622" width="1" height="17" fill="#c0c0c0" />
<rect x="968" y="622" width="1" height="10" fill="#c0c0c0" />
<rect x="976" y="620" width="1" height="3" fill="#c0c0c0" />
<rect x="984" y="609" width="1" height="14" fill="#c0c0c0" />
<rect x="992" y="602" width="1" height="21" fill="#c0c0c0" />
<rect x="1000" y="599" width="1" height="24" fill="#c0c0c0" />
<rect x="1008" y="600" width="1" height="23" fill="#c0c0c0" />
<rect x="1016" y="596" width="1" height="27" fill="#c0c0c0" />
<rect x="1024" y="594" width="1" height="29" fill="#c0c0c0" />
<rect x="1032" y="592" width="1" height="31" fill="#c0c0c0" />
<rect x="1040" y="589" width="1" height="34" fill="#c0c0c0" />
<rect x="1048" y="592" width="1" height="31" fill="#c0c0c0" />
<rect x="1056" y="596" width="1" height="27" fill="#c0c0c0" />
<rect x="1064" y="600" width="1" height="23" fill="#c0c0c0" />
<rect x="1072" y="608" width="1" height="15" fill="#c0c0c0" />
<rect x="1080" y="614" width="1" height="9" fill="#c0c0c0" />
<rect x="1088" y="619" width="1" height="4" fill="#c0c0c0" />
<rect x="1096" y="620" width="1" height="3" fill="#c0c0c0" />
<rect x="1104" y="618" width="1" height="5" fill="#c0c0c0" />
<rect x="1112" y="617" width="1" height="6" fill="#c0c0c0" />
<rect x="1120" y="616" width="1" height="7" fill="#c0c0c0" />
<rect x="1128" y="614" width="1" height="9" fill="#c0c0c0" />
<rect x="1136" y="617" width="1" height="6" fill="#c0c0c0" />
<rect x="1144" y="621" width="1" height="2" fill="#c0c0c0" />
<rect x="1152" y="618" width="1" height="5" fill="#c0c0c0" />
<rect x="1160" y="618" width="1" height="5" fill="#c0c0c0" />
<rect x="1168" y="621" width="1" height="2" fill="#c0c0c0" />
<rect x="1184" y="621" width="1" height="2" fill="#c0c0c0" />
<rect x="1192" y="622" width="1" height="5" fill="#c0c0c0" />
<rect x="1200" y="622" width="1" height="8" fill="#c0c0c0" />
<rect x="1208" y="622" width="1" height="14" fill="#c0c0c0" />
<rect x="1216" y="622" width="1" height="20" fill="#c0c0c0" />
<rect x="1224" y="622" width="1" height="26" fill="#c0c0c0" />
<rect x="1232" y="622" width="1" height="30" fill="#c0c0c0" />
<rect x="1240" y="622" width="1" height="38" fill="#c0c0c0" />
<rect x="1248" y="622" width="1" height="45" fill="#c0c0c0" />
<rect x="1256" y="622" width="1" height="53" fill="#c0c0c0" />
<rect x="1264" y="622" width="1" height="61" fill="#c0c0c0" />
<rect x="1272" y="622" width="1" height="67" fill="#c0c0c0" />
<rect x="1280" y="622" width="1" height="70" fill="#c0c0c0" />
<rect x="1288" y="622" width="1" height="77" fill="#c0c0c0" />
<rect x="1296" y="622" width="1" height="83" fill="#c0c0c0" />
<rect x="1304" y="622" width="1" height="88" fill="#c0c0c0" />
<rect x="1312" y="622" width="1" height="88" fill="#c0c0c0" />
<rect x="1320" y="622" width="1" height="87" fill="#c0c0c0" />
<rect x="1328" y="622" width="1" height="88" fill="#c0c0c0" />
<rect x="1336" y="622" width="1" height="88" fill="#c0c0c0" />
<rect x="1344" y="622" width="1" height="86" fill="#c0c0c0" />
<rect x="1352" y="622" width="1" height="74" fill="#c0c0c0" />
<rect x="1360" y="622" width="1" height="61" fill="#c0c0c0" />
<rect x="1368" y="622" width="1" height="52" fill="#c0c0c0" />
<rect x="1376" y="622" width="1" height="42" fill="#c0c0c0" />
<rect x="1384" y="622" width="1" height="31" fill="#c0c0c0" />
<rect x="1392" y="622" width="1" height="20" fill="#c0c0c0" />
<rect x="1400" y="622" width="1" height="10" fill="#c0c0c0" />
<rect x="1408" y="622" width="1" height="5" fill="#c0c0c0" />
<rect x="1416" y="618" width="1" height="5" fill="#c0c0c0" />
<rect x="1424" y="614" width="1" height="9" fill="#c0c0c0" />
<rect x="1432" y="612" width="1" height="11" fill="#c0c0c0" />
<rect x="1440" y="612" width="1" height="11" fill="#c0c0c0" />
<rect x="1448" y="611" width="1" height="12" fill="#c0c0c0" />
<rect x="1456" y="610" width="1" height="13" fill="#c0c0c0" />
<path d="M1061 594.5h2M1066 594.5h2M1054 595.5h3M1048 596.5h3M1073 596.5h2M1078 597.5h3M1042 599.5h2M1084 599.5h3M1090 600.5h3M1036 602.5h2M1096 602.5h2M1031 605.5h2M1102 605.5h2M1109 608.5h2M1114 609.5h2M1120 611.5h3M1019 613.5h2M1127 613.5h2M1132 614.5h3M1139 616.5h2M1144 617.5h3M1150 617.5h3M1156 617.5h3M1162 617.5h3M1168 617.5h3M1174 617.5h3M1012 618.5h2M1180 618.5h3M1186 618.5h3M1192 619.5h2M1455 620.5h2M1198 621.5h3M832 622.5h3M838 622.5h3M844 622.5h3M850 622.5h3M856 622.5h3M862 622.5h2M1006 622.5h2M1204 622.5h2M1450 622.5h2M827 623.5h2M868 623.5h2M448 624.5h3M454 624.5h3M460 624.5h3M466 624.5h2M1210 624.5h3M442 625.5h3M874 625.5h2M1001 625.5h2M24 626.5h3M30 626.5h3M36 626.5h3M436 626.5h3M473 626.5h2M820 626.5h2M1217 626.5h2M1443 626.5h2M13 627.5h2M18 627.5h3M43 627.5h2M478 627.5h3M880 627.5h2M7 628.5h2M430 628.5h2M484 628.5h3M815 628.5h2M1222 628.5h2M48 629.5h3M886 629.5h2M994 629.5h2M0 630.5h3M54 630.5h3M491 630.5h2M1437 630.5h2M60 631.5h3M424 631.5h2M892 631.5h2M1228 631.5h2M497 632.5h2M809 632.5h2M989 632.5h2M67 633.5h2M898 633.5h3M418 634.5h2M502 634.5h2M1234 634.5h2M1432 634.5h2M72 635.5h3M904 635.5h3M78 636.5h3M84 636.5h3M509 636.5h2M514 636.5h3M910 636.5h2M90 637.5h2M412 637.5h2M520 637.5h3M802 637.5h2M982 637.5h2M526 638.5h2M916 638.5h3M1241 638.5h2M922 639.5h3M96 640.5h3M533 640.5h2M928 640.5h3M977 640.5h2M102 641.5h3M539 641.5h2M797 641.5h2M934 641.5h3M1246 641.5h2M109 642.5h2M114 642.5h3M545 642.5h2M940 642.5h3M946 642.5h2M970 642.5h3M120 643.5h3M551 643.5h2M952 643.5h3M958 643.5h3M964 643.5h3M126 644.5h2M150 644.5h3M556 644.5h3M562 644.5h3M132 645.5h3M138 645.5h3M144 645.5h3M156 645.5h2M568 645.5h3M575 646.5h2M580 646.5h3M162 647.5h3M586 647.5h3M168 648.5h3M174 648.5h2M592 649.5h2M1258 649.5h2M180 650.5h2M598 651.5h3M604 652.5h2M187 653.5h2M610 653.5h2M616 654.5h2M778 655.5h2M623 656.5h2M628 657.5h3M634 658.5h3M640 658.5h3M773 658.5h2M198 659.5h2M646 659.5h3M652 659.5h3M658 659.5h3M664 659.5h2M670 660.5h3M676 660.5h3M682 660.5h2M382 661.5h2M688 661.5h3M694 662.5h3M766 662.5h2M204 664.5h2M701 664.5h2M1277 664.5h2M706 665.5h2M761 665.5h2M712 667.5h3M718 668.5h3M754 668.5h3M210 669.5h2M724 669.5h3M748 669.5h3M730 670.5h3M736 670.5h3M742 670.5h3M1294 678.5h2M229 685.5h2M1307 688.5h2M235 690.5h2M1313 692.5h2M1378 693.5h2M241 695.5h2M1318 695.5h2M1373 697.5h2M1324 698.5h2M247 699.5h2M1367 700.5h2M1330 701.5h2M1361 702.5h2M1336 703.5h3M1342 704.5h3M1354 704.5h3M1348 705.5h3M337 707.5h2M259 709.5h2M271 717.5h2M324 717.5h2M276 720.5h2M318 721.5h2M282 723.5h2M312 724.5h2M288 726.5h3M306 726.5h2M295 727.5h2M300 727.5h2M6.5 629v1M12.5 628v1M42.5 626v1M66.5 632v1M92.5 638v1M108.5 641v1M128.5 645v1M158.5 646v1M176.5 649v1M182.5 651v1M186.5 652v1M192.5 655v1M193.5 656v1M194.5 657v1M200.5 660v1M206.5 665v1M212.5 670v1M216.5 673v1M217.5 674v1M218.5 675v1M222.5 679v1M223.5 680v1M224.5 681v1M228.5 684v1M234.5 689v1M240.5 694v1M246.5 698v1M252.5 703v1M253.5 704v1M254.5 705v1M258.5 708v1M264.5 711v1M265.5 712v1M266.5 713v1M270.5 716v1M278.5 721v1M284.5 724v1M294.5 726v1M302.5 726v1M308.5 725v1M314.5 723v1M320.5 720v1M326.5 716v1M330.5 713v1M331.5 712v1M332.5 711v1M336.5 708v1M342.5 703v1M343.5 702v1M344.5 701v1M348.5 697v1M349.5 696v1M350.5 695v1M353.5 691v1M354.5 690v1M355.5 689v1M358.5 685v1M359.5 684v1M360.5 683v1M364.5 679v1M365.5 678v1M366.5 677v1M370.5 673v1M371.5 672v1M372.5 671v1M376.5 667v1M377.5 666v1M378.5 665v1M384.5 660v1M388.5 657v1M389.5 656v1M390.5 655v1M394.5 652v1M395.5 651v1M396.5 650v1M400.5 647v1M401.5 646v1M402.5 645v1M406.5 642v1M407.5 641v1M408.5 640v1M414.5 636v1M420.5 633v1M426.5 630v1M432.5 627v1M468.5 625v1M472.5 625v1M490.5 629v1M496.5 631v1M504.5 635v1M508.5 635v1M528.5 639v1M532.5 639v1M538.5 640v1M544.5 641v1M550.5 642v1M574.5 645v1M594.5 650v1M606.5 653v1M612.5 654v1M618.5 655v1M622.5 655v1M666.5 660v1M684.5 661v1M700.5 663v1M708.5 666v1M760.5 666v1M768.5 661v1M772.5 659v1M780.5 654v1M784.5 652v1M785.5 651v1M786.5 650v1M790.5 647v1M791.5 646v1M792.5 645v1M796.5 642v1M804.5 636v1M808.5 633v1M814.5 629v1M822.5 625v1M826.5 624v1M864.5 623v1M870.5 624v1M876.5 626v1M882.5 628v1M888.5 630v1M894.5 632v1M912.5 637v1M948.5 643v1M976.5 641v1M984.5 636v1M988.5 633v1M996.5 628v1M1000.5 626v1M1008.5 621v1M1014.5 617v1M1018.5 614v1M1024.5 610v1M1025.5 609v1M1026.5 608v1M1030.5 606v1M1038.5 601v1M1044.5 598v1M1060.5 595v1M1068.5 595v1M1072.5 595v1M1098.5 603v1M1104.5 606v1M1108.5 607v1M1116.5 610v1M1126.5 612v1M1138.5 615v1M1194.5 620v1M1206.5 623v1M1216.5 625v1M1224.5 629v1M1230.5 632v1M1236.5 635v1M1240.5 637v1M1248.5 642v1M1252.5 644v1M1253.5 645v1M1254.5 646v1M1260.5 650v1M1264.5 653v1M1265.5 654v1M1266.5 655v1M1270.5 658v1M1271.5 659v1M1272.5 660v1M1276.5 663v1M1282.5 668v1M1283.5 669v1M1284.5 670v1M1288.5 673v1M1289.5 674v1M1290.5 675v1M1296.5 679v1M1300.5 682v1M1301.5 683v1M1302.5 684v1M1306.5 687v1M1312.5 691v1M1320.5 696v1M1326.5 699v1M1332.5 702v1M1360.5 703v1M1366.5 701v1M1372.5 698v1M1380.5 692v1M1384.5 688v1M1385.5 687v1M1386.5 686v1M1390.5 683v1M1391.5 682v1M1392.5 681v1M1396.5 677v1M1397.5 676v1M1398.5 675v1M1402.5 671v1M1403.5 670v1M1404.5 669v1M1407.5 665v1M1408.5 664v1M1409.5 663v1M1412.5 659v1M1413.5 658v1M1414.5 657v1M1416.5 653v1M1417.5 652v1M1418.5 651v1M1421.5 647v1M1422.5 645v2M1426.5 641v1M1427.5 639v2M1431.5 635v1M1439.5 629v1M1445.5 625v1M1449.5 623v1" fill="none" stroke="#ff0000" stroke-width="1"/>
<line x1="-1" y1="787.5" x2="1650" y2="787.5" stroke="#c0c0c0" stroke-width="1" stroke-dasharray="3 3"/>
<line x1="-1" y1="838.5" x2="1650" y2="838.5" stroke="#c0c0c0" stroke-width="1" stroke-dasharray="3 3"/>
<line x1="-1" y1="899.5" x2="1650" y2="899.5" stroke="#c0c0c0" stroke-width="1" stroke-dasharray="3 3"/>
<path d="M983 808.5h2M979 809.5h4M976 810.5h3M987 811.5h2M992 815.5h2M994 816.5h2M996 817.5h2M1039 817.5h2M998 818.5h2M1037 818.5h2M1034 819.5h3M1016 820.5h3M1031 820.5h3M801 821.5h2M1019 821.5h4M1027 821.5h4M1415 821.5h2M803 822.5h2M1023 822.5h4M1411 822.5h4M1417 822.5h2M1408 823.5h3M806 824.5h2M1406 824.5h2M1421 825.5h2M1403 826.5h2M376 827.5h2M1401 827.5h2M378 828.5h3M391 828.5h2M768 828.5h5M811 828.5h2M1425 828.5h2M381 829.5h2M387 829.5h4M393 829.5h2M766 829.5h2M773 829.5h6M791 829.5h2M1152 829.5h2M1455 829.5h2M383 830.5h4M764 830.5h2M779 830.5h4M787 830.5h4M1451 830.5h4M407 831.5h3M762 831.5h2M783 831.5h4M1104 831.5h2M1429 831.5h2M1448 831.5h3M397 832.5h2M405 832.5h2M410 832.5h2M760 832.5h2M1106 832.5h3M1119 832.5h6M1446 832.5h2M402 833.5h3M412 833.5h2M1049 833.5h2M1109 833.5h2M1115 833.5h4M1125 833.5h4M1432 833.5h3M1444 833.5h2M400 834.5h2M414 834.5h2M736 834.5h2M1051 834.5h2M1111 834.5h4M1360 834.5h3M1435 834.5h4M1442 834.5h2M352 835.5h9M416 835.5h9M738 835.5h3M1363 835.5h4M1439 835.5h3M136 836.5h10M361 836.5h2M741 836.5h2M755 836.5h2M1054 836.5h2M1367 836.5h6M146 837.5h2M363 837.5h2M743 837.5h4M1056 837.5h5M1373 837.5h4M148 838.5h2M747 838.5h4M1061 838.5h4M150 839.5h2M366 839.5h2M751 839.5h2M1182 840.5h2M1180 841.5h2M304 842.5h3M1178 842.5h2M302 843.5h2M307 843.5h4M449 843.5h2M1091 843.5h2M1137 843.5h2M1175 843.5h3M311 844.5h3M451 844.5h2M462 844.5h2M465 844.5h2M1171 844.5h4M87 845.5h2M299 845.5h2M314 845.5h3M460 845.5h2M467 845.5h2M1168 845.5h3M85 846.5h2M297 846.5h2M317 846.5h2M454 846.5h2M458 846.5h2M623 846.5h2M935 846.5h3M1141 846.5h2M56 847.5h2M82 847.5h3M319 847.5h2M339 847.5h2M456 847.5h2M470 847.5h2M533 847.5h4M931 847.5h4M938 847.5h2M1143 847.5h2M58 848.5h3M77 848.5h5M472 848.5h2M528 848.5h5M537 848.5h2M880 848.5h5M928 848.5h3M940 848.5h2M1085 848.5h2M1197 848.5h4M24 849.5h3M61 849.5h2M69 849.5h8M474 849.5h2M839 849.5h6M853 849.5h4M878 849.5h2M885 849.5h5M942 849.5h2M1192 849.5h5M22 850.5h2M27 850.5h4M63 850.5h6M323 850.5h2M432 850.5h3M476 850.5h2M504 850.5h3M835 850.5h4M845 850.5h8M876 850.5h2M890 850.5h2M944 850.5h5M1072 850.5h3M31 851.5h3M125 851.5h4M334 851.5h2M435 851.5h4M478 851.5h2M485 851.5h4M507 851.5h4M541 851.5h2M551 851.5h3M640 851.5h5M831 851.5h4M874 851.5h2M892 851.5h2M949 851.5h4M1075 851.5h4M1081 851.5h2M8 852.5h3M19 852.5h2M34 852.5h3M112 852.5h13M332 852.5h2M439 852.5h2M480 852.5h5M511 852.5h2M547 852.5h4M554 852.5h2M645 852.5h6M827 852.5h4M872 852.5h2M894 852.5h2M1079 852.5h2M11 853.5h4M17 853.5h2M37 853.5h2M110 853.5h2M330 853.5h2M544 853.5h3M556 853.5h2M651 853.5h4M824 853.5h3M896 853.5h3M15 854.5h2M39 854.5h6M108 854.5h2M328 854.5h2M491 854.5h2M558 854.5h2M605 854.5h2M655 854.5h11M899 854.5h4M45 855.5h4M106 855.5h2M560 855.5h3M591 855.5h3M611 855.5h2M666 855.5h3M903 855.5h2M104 856.5h2M563 856.5h4M587 856.5h4M594 856.5h3M669 856.5h2M905 856.5h2M567 857.5h2M584 857.5h3M597 857.5h2M601 857.5h2M671 857.5h2M907 857.5h2M919 857.5h2M1208 857.5h2M599 858.5h2M917 858.5h2M1210 858.5h2M910 859.5h2M914 859.5h3M1212 859.5h2M912 860.5h2M1214 860.5h2M1216 861.5h5M1221 862.5h6M1227 863.5h4M704 864.5h2M1231 864.5h2M680 865.5h2M702 865.5h2M706 865.5h3M682 866.5h2M709 866.5h2M684 867.5h2M699 867.5h2M711 867.5h3M686 868.5h2M697 868.5h2M714 868.5h2M688 869.5h9M716 869.5h2M718 870.5h3M175 871.5h3M160 872.5h5M171 872.5h4M178 872.5h2M165 873.5h6M180 873.5h2M1240 873.5h5M182 874.5h2M216 874.5h2M1245 874.5h4M218 875.5h3M1249 875.5h2M185 876.5h2M221 876.5h2M187 877.5h2M223 877.5h2M225 878.5h2M1253 878.5h2M190 879.5h2M227 879.5h2M1319 879.5h3M1256 880.5h2M1317 880.5h2M1322 880.5h3M193 881.5h2M230 881.5h2M1258 881.5h2M1314 881.5h3M1325 881.5h2M1339 881.5h2M195 882.5h2M207 882.5h2M232 882.5h9M1260 882.5h2M1277 882.5h4M1312 882.5h2M1327 882.5h4M205 883.5h2M1262 883.5h2M1269 883.5h8M1281 883.5h2M1331 883.5h4M198 884.5h2M202 884.5h3M1264 884.5h5M1335 884.5h2M200 885.5h2M1285 886.5h2M1288 888.5h3M1291 889.5h4M255 890.5h6M1295 890.5h4M251 891.5h4M261 891.5h6M1299 891.5h4M248 892.5h3M267 892.5h4M1303 892.5h2M271 893.5h2M0.5 837v1M1.5 838v2M2.5 840v2M3.5 842v2M4.5 844v2M5.5 846v2M6.5 848v2M7.5 850v2M21.5 851v1M49.5 854v1M50.5 853v1M51.5 852v1M52.5 851v1M53.5 850v1M54.5 849v1M55.5 848v1M88.5 846v1M89.5 847v4M90.5 851v3M91.5 854v3M92.5 857v4M93.5 861v3M94.5 864v3M95.5 867v4M96.5 871v2M97.5 869v2M98.5 867v2M99.5 865v2M100.5 863v2M101.5 861v2M102.5 859v2M103.5 857v2M129.5 849v2M130.5 847v2M131.5 845v2M132.5 843v2M133.5 841v2M134.5 839v2M135.5 837v2M152.5 840v3M153.5 843v4M154.5 847v4M155.5 851v4M156.5 855v4M157.5 859v4M158.5 863v4M159.5 867v4M160.5 871v1M184.5 875v1M189.5 878v1M192.5 880v1M197.5 883v1M209.5 881v1M210.5 880v1M211.5 879v1M212.5 878v1M213.5 877v1M214.5 876v1M215.5 875v1M229.5 880v1M241.5 883v1M242.5 884v2M243.5 886v1M244.5 887v1M245.5 888v1M246.5 889v2M247.5 891v1M272.5 892v1M273.5 890v2M274.5 887v3M275.5 885v2M276.5 882v3M277.5 880v2M278.5 877v3M279.5 875v2M280.5 873v2M281.5 871v2M282.5 869v2M283.5 867v2M284.5 865v2M285.5 863v2M286.5 861v2M287.5 859v2M288.5 858v1M289.5 856v2M290.5 855v1M291.5 854v1M292.5 852v2M293.5 851v1M294.5 850v1M295.5 848v2M296.5 847v1M301.5 844v1M321.5 848v1M322.5 849v1M325.5 851v1M326.5 852v1M327.5 853v1M336.5 850v1M337.5 849v1M338.5 848v1M341.5 846v1M342.5 845v1M343.5 844v1M344.5 843v1M345.5 842v1M346.5 841v1M347.5 840v1M348.5 839v1M349.5 838v1M350.5 837v1M351.5 836v1M365.5 838v1M368.5 840v1M369.5 838v2M370.5 836v2M371.5 835v1M372.5 833v2M373.5 832v1M374.5 830v2M375.5 828v2M395.5 830v1M396.5 831v1M399.5 833v1M425.5 836v2M426.5 838v2M427.5 840v2M428.5 842v2M429.5 844v2M430.5 846v2M431.5 848v2M441.5 851v1M442.5 849v2M443.5 848v1M444.5 847v1M445.5 846v1M446.5 844v2M447.5 843v1M448.5 842v1M453.5 845v1M464.5 843v1M469.5 846v1M489.5 852v1M490.5 853v1M493.5 855v1M494.5 856v1M495.5 857v1M496.5 858v1M497.5 857v1M498.5 856v1M499.5 855v1M500.5 854v1M501.5 853v1M502.5 852v1M503.5 851v1M513.5 850v2M514.5 848v2M515.5 846v2M516.5 844v2M517.5 842v2M518.5 840v2M519.5 838v2M520.5 837v1M521.5 838v2M522.5 840v1M523.5 841v1M524.5 842v2M525.5 844v1M526.5 845v1M527.5 846v2M539.5 849v1M540.5 850v1M543.5 852v1M569.5 858v1M570.5 859v1M571.5 860v1M572.5 861v1M573.5 862v1M574.5 863v1M575.5 864v1M576.5 865v1M577.5 864v1M578.5 863v1M579.5 862v1M580.5 861v1M581.5 860v1M582.5 859v1M583.5 858v1M603.5 856v1M604.5 855v1M607.5 853v1M608.5 852v1M609.5 853v1M610.5 854v1M613.5 856v1M614.5 857v1M615.5 858v1M616.5 859v1M617.5 857v2M618.5 855v2M619.5 853v2M620.5 852v1M621.5 850v2M622.5 848v2M623.5 847v1M624.5 845v1M625.5 847v2M626.5 849v2M627.5 851v2M628.5 853v2M629.5 855v2M630.5 857v2M631.5 859v2M632.5 861v1M633.5 860v1M634.5 858v2M635.5 857v1M636.5 856v1M637.5 855v1M638.5 853v2M639.5 852v1M673.5 858v1M674.5 859v1M675.5 860v1M676.5 861v1M677.5 862v1M678.5 863v1M679.5 864v1M701.5 866v1M720.5 871v1M721.5 867v3M722.5 865v2M723.5 862v3M724.5 859v3M725.5 856v3M726.5 854v2M727.5 851v3M728.5 849v2M729.5 847v2M730.5 845v2M731.5 843v2M732.5 841v2M733.5 839v2M734.5 837v2M735.5 835v2M753.5 838v1M754.5 837v1M757.5 835v1M758.5 834v1M759.5 833v1M793.5 828v1M794.5 827v1M795.5 826v1M796.5 824v2M797.5 823v1M798.5 822v1M799.5 821v1M800.5 820v1M805.5 823v1M808.5 825v1M809.5 826v1M810.5 827v1M813.5 829v1M814.5 830v1M815.5 831v1M816.5 832v2M817.5 834v2M818.5 836v3M819.5 839v3M820.5 842v2M821.5 844v3M822.5 847v3M823.5 850v2M824.5 852v1M857.5 847v2M858.5 846v1M859.5 844v2M860.5 843v1M861.5 841v2M862.5 840v1M863.5 838v2M864.5 837v1M865.5 838v2M866.5 840v2M867.5 842v2M868.5 844v2M869.5 846v2M870.5 848v2M871.5 850v2M909.5 858v1M921.5 856v1M922.5 855v1M923.5 854v1M924.5 852v2M925.5 851v1M926.5 850v1M927.5 849v1M952.5 850v1M953.5 848v2M954.5 846v2M955.5 843v3M956.5 841v2M957.5 838v3M958.5 836v2M959.5 834v2M960.5 832v2M961.5 831v1M962.5 830v1M963.5 829v1M964.5 828v1M965.5 827v1M966.5 826v1M967.5 825v1M968.5 824v1M969.5 822v2M970.5 820v2M971.5 818v2M972.5 817v1M973.5 815v2M974.5 813v2M975.5 811v2M985.5 809v1M986.5 810v1M989.5 812v1M990.5 813v1M991.5 814v1M1000.5 819v1M1001.5 820v2M1002.5 822v2M1003.5 824v1M1004.5 825v2M1005.5 827v1M1006.5 828v2M1007.5 830v2M1008.5 832v1M1009.5 830v2M1010.5 829v1M1011.5 827v2M1012.5 826v1M1013.5 824v2M1014.5 823v1M1015.5 821v2M1041.5 818v2M1042.5 820v2M1043.5 822v2M1044.5 824v2M1045.5 826v2M1046.5 828v2M1047.5 830v2M1048.5 832v1M1053.5 835v1M1065.5 839v2M1066.5 841v1M1067.5 842v2M1068.5 844v1M1069.5 845v2M1070.5 847v1M1071.5 848v2M1083.5 850v1M1084.5 849v1M1087.5 847v1M1088.5 846v1M1089.5 845v1M1090.5 844v1M1093.5 842v1M1094.5 841v1M1095.5 840v1M1096.5 839v1M1097.5 838v1M1098.5 837v1M1099.5 836v1M1100.5 835v1M1101.5 834v1M1102.5 833v1M1103.5 832v1M1129.5 834v1M1130.5 835v1M1131.5 836v1M1132.5 837v2M1133.5 839v1M1134.5 840v1M1135.5 841v1M1136.5 842v1M1139.5 844v1M1140.5 845v1M1144.5 848v1M1145.5 845v2M1146.5 842v3M1147.5 840v2M1148.5 837v3M1149.5 835v2M1150.5 832v3M1151.5 830v2M1152.5 828v1M1154.5 830v1M1155.5 831v1M1156.5 832v2M1157.5 834v1M1158.5 835v1M1159.5 836v1M1160.5 837v1M1161.5 838v1M1162.5 839v1M1163.5 840v1M1164.5 841v1M1165.5 842v1M1166.5 843v1M1167.5 844v1M1184.5 839v1M1185.5 840v1M1186.5 841v2M1187.5 843v1M1188.5 844v1M1189.5 845v1M1190.5 846v2M1191.5 848v1M1201.5 849v1M1202.5 850v1M1203.5 851v1M1204.5 852v2M1205.5 854v1M1206.5 855v1M1207.5 856v1M1233.5 865v1M1234.5 866v1M1235.5 867v1M1236.5 868v2M1237.5 870v1M1238.5 871v1M1239.5 872v1M1251.5 876v1M1252.5 877v1M1255.5 879v1M1283.5 884v1M1284.5 885v1M1287.5 887v1M1305.5 891v1M1306.5 889v2M1307.5 888v1M1308.5 887v1M1309.5 886v1M1310.5 884v2M1311.5 883v1M1337.5 883v1M1338.5 882v1M1341.5 880v1M1342.5 879v1M1343.5 878v1M1344.5 875v3M1345.5 871v4M1346.5 867v4M1347.5 862v5M1348.5 858v4M1349.5 853v5M1350.5 849v4M1351.5 845v4M1352.5 842v3M1353.5 841v1M1354.5 840v1M1355.5 839v1M1356.5 838v1M1357.5 837v1M1358.5 836v1M1359.5 835v1M1377.5 836v1M1378.5 834v2M1379.5 833v1M1380.5 832v1M1381.5 831v1M1382.5 829v2M1383.5 828v1M1384.5 827v1M1385.5 826v1M1386.5 825v1M1387.5 824v1M1388.5 822v2M1389.5 821v1M1390.5 820v1M1391.5 819v1M1392.5 818v1M1393.5 819v1M1394.5 820v2M1395.5 822v1M1396.5 823v1M1397.5 824v1M1398.5 825v2M1399.5 827v1M1400.5 828v1M1405.5 825v1M1419.5 823v1M1420.5 824v1M1423.5 826v1M1424.5 827v1M1427.5 829v1M1428.5 830v1M1431.5 832v1" fill="none" stroke="#1e90ff" stroke-width="1"/>
</g>
<line x1="1338.5" y1="700.5" x2="1413.5" y2="613.5" stroke="#ff0000" stroke-width="3.2" stroke-linecap="butt"/>
<polygon points="1414.0,612.9 1411.5,621.7 1405.7,616.7" fill="#ff0000"/>
<line x1="1413" y1="612.3" x2="1449" y2="607.5" stroke="#ff0000" stroke-width="2.8" stroke-linecap="butt"/>
<polygon points="1449.8,607.4 1442.0,611.9 1441.1,605.1" fill="#ff0000"/>
<line x1="1373.5" y1="827.5" x2="1466" y2="822.3" stroke="#ff0000" stroke-width="3.4" stroke-linecap="butt"/>
<polygon points="1466.8,822.3 1455.3,827.5 1454.8,818.3" fill="#ff0000"/>
<g shape-rendering="crispEdges">
<rect x="1650" y="24" width="1" height="902" fill="#000" />
<rect x="1651" y="46" width="2" height="1" fill="#000" />
<rect x="1651" y="79" width="2" height="1" fill="#000" />
<rect x="1651" y="112" width="2" height="1" fill="#000" />
<rect x="1651" y="145" width="2" height="1" fill="#000" />
<rect x="1651" y="178" width="2" height="1" fill="#000" />
<rect x="1651" y="211" width="2" height="1" fill="#000" />
<rect x="1651" y="244" width="2" height="1" fill="#000" />
<rect x="1651" y="277" width="2" height="1" fill="#000" />
<rect x="1651" y="310" width="2" height="1" fill="#000" />
<rect x="1651" y="343" width="2" height="1" fill="#000" />
<rect x="1651" y="376" width="2" height="1" fill="#000" />
<rect x="1651" y="442" width="2" height="1" fill="#000" />
<rect x="1651" y="475" width="2" height="1" fill="#000" />
<rect x="1651" y="508" width="2" height="1" fill="#000" />
<rect x="1651" y="541" width="2" height="1" fill="#000" />
<rect x="1651" y="574" width="2" height="1" fill="#000" />
</g>
<text transform="translate(1656.3,50.0) scale(0.9,1)" font-size="10.2" fill="#000" text-anchor="start" >1.41910</text>
<text transform="translate(1656.3,83.0) scale(0.9,1)" font-size="10.2" fill="#000" text-anchor="start" >1.41520</text>
<text transform="translate(1656.3,116.0) scale(0.9,1)" font-size="10.2" fill="#000" text-anchor="start" >1.41120</text>
<text transform="translate(1656.3,149.0) scale(0.9,1)" font-size="10.2" fill="#000" text-anchor="start" >1.40730</text>
<text transform="translate(1656.3,182.0) scale(0.9,1)" font-size="10.2" fill="#000" text-anchor="start" >1.40330</text>
<text transform="translate(1656.3,215.0) scale(0.9,1)" font-size="10.2" fill="#000" text-anchor="start" >1.39930</text>
<text transform="translate(1656.3,248.0) scale(0.9,1)" font-size="10.2" fill="#000" text-anchor="start" >1.39540</text>
<text transform="translate(1656.3,281.0) scale(0.9,1)" font-size="10.2" fill="#000" text-anchor="start" >1.39140</text>
<text transform="translate(1656.3,314.0) scale(0.9,1)" font-size="10.2" fill="#000" text-anchor="start" >1.38750</text>
<text transform="translate(1656.3,347.0) scale(0.9,1)" font-size="10.2" fill="#000" text-anchor="start" >1.38350</text>
<text transform="translate(1656.3,380.0) scale(0.9,1)" font-size="10.2" fill="#000" text-anchor="start" >1.37950</text>
<text transform="translate(1656.3,446.0) scale(0.9,1)" font-size="10.2" fill="#000" text-anchor="start" >1.37160</text>
<text transform="translate(1656.3,479.0) scale(0.9,1)" font-size="10.2" fill="#000" text-anchor="start" >1.36770</text>
<text transform="translate(1656.3,512.0) scale(0.9,1)" font-size="10.2" fill="#000" text-anchor="start" >1.36370</text>
<text transform="translate(1656.3,545.0) scale(0.9,1)" font-size="10.2" fill="#000" text-anchor="start" >1.35970</text>
<text transform="translate(1656.3,578.0) scale(0.9,1)" font-size="10.2" fill="#000" text-anchor="start" >1.35580</text>
<rect x="1652" y="353" width="41" height="11" fill="#ff0000" shape-rendering="crispEdges"/>
<text transform="translate(1656.3,362.0) scale(0.9,1)" font-size="10.2" fill="#fff" text-anchor="start" >1.38160</text>
<rect x="1652" y="377" width="41" height="11" fill="#ff4500" shape-rendering="crispEdges"/>
<text transform="translate(1656.3,386.0) scale(0.9,1)" font-size="10.2" fill="#fff" text-anchor="start" >1.37873</text>
<rect x="1652" y="407" width="41" height="11" fill="#000" shape-rendering="crispEdges"/>
<text transform="translate(1656.3,416.0) scale(0.9,1)" font-size="10.2" fill="#fff" text-anchor="start" >1.37523</text>
<rect x="1652" y="398" width="41" height="11" fill="#32cd32" shape-rendering="crispEdges"/>
<text transform="translate(1656.3,407.0) scale(0.9,1)" font-size="10.2" fill="#fff" text-anchor="start" >1.37622</text>
<rect x="1652" y="424" width="41" height="11" fill="#0000ff" shape-rendering="crispEdges"/>
<text transform="translate(1656.3,433.0) scale(0.9,1)" font-size="10.2" fill="#fff" text-anchor="start" >1.37310</text>
<rect x="1652" y="445" width="41" height="11" fill="#0000ff" shape-rendering="crispEdges"/>
<text transform="translate(1656.3,454.0) scale(0.9,1)" font-size="10.2" fill="#fff" text-anchor="start" >1.37059</text>
<g shape-rendering="crispEdges">
<rect x="1651" y="581" width="1" height="1" fill="#000" />
<rect x="1651" y="622" width="1" height="1" fill="#000" />
<rect x="1651" y="748" width="1" height="1" fill="#000" />
<rect x="1651" y="753" width="1" height="1" fill="#000" />
<rect x="1651" y="924" width="1" height="1" fill="#000" />
</g>
<text transform="translate(1654,590.3) scale(0.9,1)" font-size="10.2" fill="#000" text-anchor="start" >0.002565</text>
<text transform="translate(1654.5,626.3) scale(0.9,1)" font-size="10.2" fill="#000" text-anchor="start" >0.00</text>
<text transform="translate(1654,746) scale(0.9,1)" font-size="10.2" fill="#000" text-anchor="start" >-0.007847</text>
<text transform="translate(1654.5,762) scale(0.9,1)" font-size="10.2" fill="#000" text-anchor="start" >100</text>
<text transform="translate(1654.5,791) scale(0.9,1)" font-size="10.2" fill="#000" text-anchor="start" >80</text>
<text transform="translate(1654.5,842) scale(0.9,1)" font-size="10.2" fill="#000" text-anchor="start" >50</text>
<text transform="translate(1654.5,903) scale(0.9,1)" font-size="10.2" fill="#000" text-anchor="start" >15</text>
<text transform="translate(1654.5,922.3) scale(0.9,1)" font-size="10.2" fill="#000" text-anchor="start" >0</text>
<text transform="translate(-1.7,592) scale(0.9,1)" font-size="10.2" fill="#000" text-anchor="start" >MACD(12,26,9) 0.000808 0.000234</text>
<text transform="translate(-2.7,764.3) scale(0.9,1)" font-size="10.2" fill="#000" text-anchor="start" >RSI(14) 55.3126</text>
<g shape-rendering="crispEdges">
<rect x="56" y="926" width="1" height="3" fill="#000" />
<rect x="120" y="926" width="1" height="3" fill="#000" />
<rect x="184" y="926" width="1" height="3" fill="#000" />
<rect x="248" y="926" width="1" height="3" fill="#000" />
<rect x="312" y="926" width="1" height="3" fill="#000" />
<rect x="376" y="926" width="1" height="3" fill="#000" />
<rect x="440" y="926" width="1" height="3" fill="#000" />
<rect x="504" y="926" width="1" height="3" fill="#000" />
<rect x="568" y="926" width="1" height="3" fill="#000" />
<rect x="632" y="926" width="1" height="3" fill="#000" />
<rect x="696" y="926" width="1" height="3" fill="#000" />
<rect x="760" y="926" width="1" height="3" fill="#000" />
<rect x="824" y="926" width="1" height="3" fill="#000" />
<rect x="888" y="926" width="1" height="3" fill="#000" />
<rect x="952" y="926" width="1" height="3" fill="#000" />
<rect x="1016" y="926" width="1" height="3" fill="#000" />
<rect x="1080" y="926" width="1" height="3" fill="#000" />
<rect x="1144" y="926" width="1" height="3" fill="#000" />
<rect x="1208" y="926" width="1" height="3" fill="#000" />
<rect x="1272" y="926" width="1" height="3" fill="#000" />
<rect x="1336" y="926" width="1" height="3" fill="#000" />
<rect x="1400" y="926" width="1" height="3" fill="#000" />
</g>
<text transform="translate(-8.4,938) scale(0.9,1)" font-size="10.2" fill="#000" text-anchor="start" >11 Jun 2021</text>
<text transform="translate(55.6,938) scale(0.9,1)" font-size="10.2" fill="#000" text-anchor="start" >14 Jun 12:00</text>
<text transform="translate(119.6,938) scale(0.9,1)" font-size="10.2" fill="#000" text-anchor="start" >15 Jun 20:00</text>
<text transform="translate(183.6,938) scale(0.9,1)" font-size="10.2" fill="#000" text-anchor="start" >17 Jun 04:00</text>
<text transform="translate(247.6,938) scale(0.9,1)" font-size="10.2" fill="#000" text-anchor="start" >18 Jun 12:00</text>
<text transform="translate(311.6,938) scale(0.9,1)" font-size="10.2" fill="#000" text-anchor="start" >21 Jun 20:00</text>
<text transform="translate(375.6,938) scale(0.9,1)" font-size="10.2" fill="#000" text-anchor="start" >23 Jun 04:00</text>
<text transform="translate(439.6,938) scale(0.9,1)" font-size="10.2" fill="#000" text-anchor="start" >24 Jun 12:00</text>
<text transform="translate(503.6,938) scale(0.9,1)" font-size="10.2" fill="#000" text-anchor="start" >27 Jun 23:00</text>
<text transform="translate(567.6,938) scale(0.9,1)" font-size="10.2" fill="#000" text-anchor="start" >29 Jun 04:00</text>
<text transform="translate(631.6,938) scale(0.9,1)" font-size="10.2" fill="#000" text-anchor="start" >30 Jun 12:00</text>
<text transform="translate(695.6,938) scale(0.9,1)" font-size="10.2" fill="#000" text-anchor="start" >1 Jul 20:00</text>
<text transform="translate(759.6,938) scale(0.9,1)" font-size="10.2" fill="#000" text-anchor="start" >5 Jul 04:00</text>
<text transform="translate(823.6,938) scale(0.9,1)" font-size="10.2" fill="#000" text-anchor="start" >6 Jul 12:00</text>
<text transform="translate(887.6,938) scale(0.9,1)" font-size="10.2" fill="#000" text-anchor="start" >7 Jul 20:00</text>
<text transform="translate(951.6,938) scale(0.9,1)" font-size="10.2" fill="#000" text-anchor="start" >9 Jul 04:00</text>
<text transform="translate(1015.6,938) scale(0.9,1)" font-size="10.2" fill="#000" text-anchor="start" >12 Jul 12:00</text>
<text transform="translate(1079.6,938) scale(0.9,1)" font-size="10.2" fill="#000" text-anchor="start" >13 Jul 20:00</text>
<text transform="translate(1143.6,938) scale(0.9,1)" font-size="10.2" fill="#000" text-anchor="start" >15 Jul 04:00</text>
<text transform="translate(1207.6,938) scale(0.9,1)" font-size="10.2" fill="#000" text-anchor="start" >16 Jul 12:00</text>
<text transform="translate(1271.6,938) scale(0.9,1)" font-size="10.2" fill="#000" text-anchor="start" >19 Jul 20:00</text>
<text transform="translate(1335.6,938) scale(0.9,1)" font-size="10.2" fill="#000" text-anchor="start" >21 Jul 04:00</text>
<text transform="translate(1399.6,938) scale(0.9,1)" font-size="10.2" fill="#000" text-anchor="start" >22 Jul 12:00</text>
<text transform="translate(7,36.1) scale(0.91,1)" font-size="10.2" fill="#000" text-anchor="start" >GBPUSD-,H4&#160;&#160;1.37481 1.37624 1.37473 1.37523</text>
<polygon points="0,33 1.8,35.7 0,35.7" fill="#000"/>
<defs>
<linearGradient id="gb" x1="0" y1="0" x2="0" y2="1"><stop offset="0" stop-color="#5050f0"/><stop offset="1" stop-color="#2828d0"/></linearGradient>
<linearGradient id="gp" x1="0" y1="0" x2="0" y2="1"><stop offset="0" stop-color="#3434dc"/><stop offset="1" stop-color="#0000a8"/></linearGradient>
<linearGradient id="gs" x1="0" y1="0" x2="0" y2="1"><stop offset="0" stop-color="#f3f3f3"/><stop offset="0.36" stop-color="#e4e4e4"/><stop offset="0.37" stop-color="#d6d6d6"/><stop offset="1" stop-color="#cecece"/></linearGradient>
</defs>
<g shape-rendering="crispEdges">
<rect x="0" y="44" width="214" height="57" fill="#fff" />
<rect x="0" y="44" width="47" height="24" fill="url(#gb)" />
<rect x="162" y="44" width="52" height="24" fill="url(#gb)" />
<rect x="0" y="68" width="104" height="33" fill="url(#gp)" />
<rect x="106" y="68" width="108" height="33" fill="url(#gp)" />
<rect x="0" y="44" width="47" height="1" fill="#1010b4" />
<rect x="46" y="44" width="1" height="24" fill="#1414b0" />
<rect x="162" y="44" width="52" height="1" fill="#1010b4" />
<rect x="162" y="44" width="1" height="24" fill="#1414b0" />
<rect x="213" y="44" width="1" height="57" fill="#1010a8" />
<rect x="103" y="68" width="1" height="33" fill="#1818a4" />
<rect x="106" y="68" width="1" height="33" fill="#2a2ac0" />
<rect x="0" y="100" width="104" height="1" fill="#0000a0" />
<rect x="106" y="100" width="108" height="1" fill="#0000a0" />
<rect x="49.5" y="44.5" width="110" height="21" fill="#fff" stroke="#a8a8a8"/>
<rect x="51" y="46" width="18" height="18" fill="url(#gs)" />
<rect x="140" y="46" width="18" height="18" fill="url(#gs)" />
<rect x="70" y="45" width="1" height="20" fill="#b4b4b4" />
<rect x="138" y="45" width="1" height="20" fill="#b4b4b4" />
<rect x="0" y="67" width="44" height="1" fill="#1414a4" />
<rect x="166" y="67" width="44" height="1" fill="#1414a4" />
<rect x="0" y="68" width="44" height="1" fill="#7878f2" />
<rect x="166" y="68" width="44" height="1" fill="#7878f2" />
</g>
<polygon points="57,53 63,53 60,56.3" fill="#4a64c8"/>
<polygon points="146,56 152,56 149,52.7" fill="#4a64c8"/>
<text transform="translate(7.3,59.9) scale(0.9,1)" font-size="11.9" fill="#fff" text-anchor="start" >SELL</text>
<text transform="translate(176,59.9) scale(0.94,1)" font-size="11.9" fill="#fff" text-anchor="start" >BUY</text>
<text x="135" y="58.9" font-size="11.8" fill="#000" text-anchor="end" >1.00</text>
<text x="15" y="96.2" font-size="11.9" fill="#fff" text-anchor="start" font-weight="bold">1.37</text>
<text transform="translate(43.2,96.2) scale(0.925,1)" font-size="33.4" fill="#fff" text-anchor="start" >52</text>
<text x="82.3" y="80" font-size="11.5" fill="#fff" text-anchor="start" font-weight="bold">3</text>
<text x="125.5" y="96.2" font-size="11.9" fill="#fff" text-anchor="start" font-weight="bold">1.37</text>
<text transform="translate(154.3,96.2) scale(0.925,1)" font-size="33.4" fill="#fff" text-anchor="start" >54</text>
<text x="193" y="80" font-size="11.5" fill="#fff" text-anchor="start" font-weight="bold">7</text>
<g>
<rect x="0" y="0" width="1698" height="20" fill="#f0f0f0"/>
<rect x="0" y="19" width="1698" height="1" fill="#f6f6f6" shape-rendering="crispEdges"/>
<rect x="0" y="20" width="1697" height="1" fill="#a8a8a8" shape-rendering="crispEdges"/>
<rect x="0" y="21" width="1696" height="1" fill="#686868" shape-rendering="crispEdges"/>
<rect x="1696" y="21" width="2" height="1" fill="#fff"/><rect x="1697" y="20" width="1" height="1" fill="#fff"/>
<path d="M0,12.5L3.5,16.5" stroke="#e0a020" stroke-width="2.5"/>
<rect x="11" y="0" width="1" height="18" fill="#a0a0a0" shape-rendering="crispEdges"/>
<path d="M21.5,1.5H29L32.5,5V13.5H21.5Z" fill="#fff" stroke="#8c8c8c"/>
<path d="M23.5,4.5H28 M23.5,7H27 M23.5,9.5H26" stroke="#8c8c8c" stroke-width="1"/>
<path d="M29,7.5H33V10.5H36.5V14.5H33V18H29V14.5H25.5V10.5H29Z" fill="#2fd42f" stroke="#0b8f0b" stroke-width="0.8"/>
<text x="40.2" y="11.7" font-size="12" fill="#000" text-anchor="start" textLength="36" lengthAdjust="spacing" style="font-family:'Liberation Sans','Noto Sans CJK SC',sans-serif">新订单</text>
<defs><linearGradient id="gbk" x1="0" y1="0" x2="1" y2="1"><stop offset="0" stop-color="#fbe261"/><stop offset="0.55" stop-color="#f0c025"/><stop offset="1" stop-color="#d39a12"/></linearGradient><linearGradient id="gcl" x1="0" y1="0" x2="0" y2="1"><stop offset="0" stop-color="#ffffff"/><stop offset="1" stop-color="#c3d3ec"/></linearGradient></defs>
<path d="M88.1,10.2L96.1,15.6L103.4,9.5L103.6,11.2L96.2,17.2L88,11.8Z" fill="#b47612"/>
<path d="M93.5,1.3L103.4,9.5L96.1,15.6L88.1,10.2Z" fill="url(#gbk)" stroke="#a86c10" stroke-width="0.8"/>
<path d="M89.5,10.6L96.1,14.3L102,9.6" fill="none" stroke="#fdf0b0" stroke-width="0.7"/>
<path d="M118.3,2L121.2,0.4V9.8L118.3,10.8Z" fill="#6cc4ff"/>
<rect x="121.2" y="0" width="8" height="10" fill="#1f8df6"/>
<path d="M124,5.6L128,4.8V5.7L124,6.5Z" fill="#d9efff"/><path d="M125.5,3.9L128,3.4V4.1L125.5,4.6Z" fill="#a8dcff"/>
<path d="M119.3,15.6C115.8,15.6 115.3,11.8 118.6,11.2C118.8,8.6 122.6,8 123.8,10.2C125.6,8.4 128.8,9.2 128.8,11.4C132.4,11.2 132.6,15.6 129.4,15.6Z" fill="url(#gcl)" stroke="#4c68a6" stroke-width="0.9"/>
<path d="M151.7,7.6L152.2,15.4A7.8,7.8 0 0 0 159.3,9.5Z" fill="#b9dcb9"/>
<path d="M151.7,0A7.6,7.6 0 0 0 151.7,15.2" fill="none" stroke="#b7c9ee" stroke-width="1.1"/>
<path d="M151.7,2.2A5.4,5.4 0 0 0 151.7,13" fill="none" stroke="#6d90dc" stroke-width="1.2"/>
<path d="M151.7,4.4A3.2,3.2 0 0 0 151.7,10.8" fill="none" stroke="#3f6ad2" stroke-width="1.2"/>
<path d="M151.7,0A7.6,7.6 0 0 1 151.7,15.2" fill="none" stroke="#a9cfa9" stroke-width="1.1"/>
<path d="M151.7,2.2A5.4,5.4 0 0 1 151.7,13" fill="none" stroke="#7fb77f" stroke-width="1.2"/>
<path d="M151.7,4.4A3.2,3.2 0 0 1 151.7,10.8" fill="none" stroke="#5aa45a" stroke-width="1.1"/>
<path d="M152.3,8V15.6" stroke="#22a022" stroke-width="1.6"/>
<circle cx="151.7" cy="7.4" r="1.9" fill="#2653cc"/>
<path d="M172,7L185.8,7L184.5,10.5L178.8,15.4Z" fill="#f6d84e" stroke="#c9a020" stroke-width="0.6"/>
<ellipse cx="179.2" cy="4.9" rx="7.8" ry="2.6" fill="#5aa9e6" stroke="#3c85c6" stroke-width="0.6"/>
<path d="M175.8,4.4C175.8,2.2 177,0.4 179.2,0.4C181.4,0.4 182.6,2.2 182.6,4.4C181,5.2 177.4,5.2 175.8,4.4Z" fill="#7fc0f0" stroke="#3c85c6" stroke-width="0.5"/>
<circle cx="183.6" cy="11.8" r="3.9" fill="#de2a12"/>
<rect x="182" y="10.2" width="3.2" height="3.2" fill="#fff"/>
<text x="194" y="11.7" font-size="11.6" fill="#000" text-anchor="start" textLength="44.5" lengthAdjust="spacing" style="font-family:'Liberation Sans','Noto Sans CJK SC',sans-serif">自动交易</text>
<rect x="247" y="0" width="1" height="20" fill="#a0a0a0" shape-rendering="crispEdges"/>
<rect x="251" y="0" width="3" height="1" fill="#a6a6a6" shape-rendering="crispEdges"/>
<rect x="251" y="2" width="3" height="1" fill="#a6a6a6" shape-rendering="crispEdges"/>
<rect x="251" y="4" width="3" height="1" fill="#a6a6a6" shape-rendering="crispEdges"/>
<rect x="251" y="6" width="3" height="1" fill="#a6a6a6" shape-rendering="crispEdges"/>
<rect x="251" y="8" width="3" height="1" fill="#a6a6a6" shape-rendering="crispEdges"/>
<rect x="251" y="10" width="3" height="1" fill="#a6a6a6" shape-rendering="crispEdges"/>
<rect x="251" y="12" width="3" height="1" fill="#a6a6a6" shape-rendering="crispEdges"/>
<rect x="251" y="14" width="3" height="1" fill="#a6a6a6" shape-rendering="crispEdges"/>
<rect x="251" y="16" width="3" height="1" fill="#a6a6a6" shape-rendering="crispEdges"/>
<path d="M265.5,2.5V16 M263,13.5H276.5 M264,4.5L265.5,2.2L267,4.5 M274.5,12L276.8,13.5L274.5,15" fill="none" stroke="#4d4d4d" stroke-width="1.1"/>
<path d="M272.5,3.5V11 M272.5,4.5H274.5 M270,10.5H272.5" fill="none" stroke="#0a9a0a" stroke-width="1.2"/>
<rect x="285" y="0" width="1" height="18" fill="#a0a0a0" shape-rendering="crispEdges"/>
<rect x="287" y="0" width="23" height="18" fill="#f8f8f8"/>
<path d="M293.5,2.5V16 M291,13.5H304.5 M292,4.5L293.5,2.2L295,4.5 M302.5,12L304.8,13.5L302.5,15" fill="none" stroke="#4d4d4d" stroke-width="1.1"/>
<path d="M299.5,0V11.5" stroke="#0a7a0a" stroke-width="1"/>
<rect x="297.5" y="2.5" width="4" height="7" fill="#27cf27" stroke="#0a8a0a" stroke-width="0.8"/>
<path d="M321.5,2.5V16 M319,13.5H332.5 M320,4.5L321.5,2.2L323,4.5 M330.5,12L332.8,13.5L330.5,15" fill="none" stroke="#4d4d4d" stroke-width="1.1"/>
<path d="M320,10.5C322.5,9.5 323.5,5 326,5C328.5,5 330,8.5 331.5,9.5" fill="none" stroke="#2a9a2a" stroke-width="1.2"/>
<rect x="342" y="0" width="1" height="18" fill="#a0a0a0" shape-rendering="crispEdges"/>
<path d="M361,10L366,15" stroke="#8a6a10" stroke-width="3.6" stroke-linecap="round"/>
<path d="M361,10L366,15" stroke="#efc535" stroke-width="2.2" stroke-linecap="round"/>
<circle cx="357" cy="6" r="5.4" fill="#cfeaf8" stroke="#2f7fd4" stroke-width="1.3"/>
<path d="M354,6H360" stroke="#3a78b4" stroke-width="1.6"/>
<path d="M357,3V9" stroke="#3a78b4" stroke-width="1.6"/>
<path d="M389,10L394,15" stroke="#8a6a10" stroke-width="3.6" stroke-linecap="round"/>
<path d="M389,10L394,15" stroke="#efc535" stroke-width="2.2" stroke-linecap="round"/>
<circle cx="385" cy="6" r="5.4" fill="#cfeaf8" stroke="#2f7fd4" stroke-width="1.3"/>
<path d="M382,6H388" stroke="#3a78b4" stroke-width="1.6"/>
<rect x="407" y="0" width="8" height="7.6" fill="#46a51e"/>
<rect x="408.5" y="3" width="5" height="3.5" fill="#fff" opacity="0.92"/>
<rect x="409.5" y="4.3" width="3" height="1" fill="#46a51e" opacity="0.6"/>
<rect x="415.5" y="0" width="8" height="7.6" fill="#2456d6"/>
<rect x="417.0" y="3" width="5" height="3.5" fill="#fff" opacity="0.92"/>
<rect x="418.0" y="4.3" width="3" height="1" fill="#2456d6" opacity="0.6"/>
<rect x="407" y="8" width="8" height="7.6" fill="#2456d6"/>
<rect x="408.5" y="11" width="5" height="3.5" fill="#fff" opacity="0.92"/>
<rect x="409.5" y="12.3" width="3" height="1" fill="#2456d6" opacity="0.6"/>
<rect x="415.5" y="8" width="8" height="7.6" fill="#46a51e"/>
<rect x="417.0" y="11" width="5" height="3.5" fill="#fff" opacity="0.92"/>
<rect x="418.0" y="12.3" width="3" height="1" fill="#46a51e" opacity="0.6"/>
<rect x="432" y="0" width="1" height="18" fill="#a0a0a0" shape-rendering="crispEdges"/>
<rect x="437" y="0" width="1" height="18" fill="#a0a0a0" shape-rendering="crispEdges"/>
<rect x="438" y="0" width="24" height="18" fill="#f8f8f8"/>
<path d="M445.5,2.5V16 M443,13.5H456.5 M444,4.5L445.5,2.2L447,4.5 M454.5,12L456.8,13.5L454.5,15" fill="none" stroke="#4d4d4d" stroke-width="1.1"/>
<polygon points="450,4 454.3,7.5 450,11" fill="#3ad23a" stroke="#0a9a0a" stroke-width="0.8"/>
<rect x="464" y="0" width="1" height="18" fill="#a0a0a0" shape-rendering="crispEdges"/>
<rect x="465" y="0" width="25" height="18" fill="#f8f8f8"/>
<path d="M473.5,2.5V16 M471,13.5H484.5 M472,4.5L473.5,2.2L475,4.5 M482.5,12L484.8,13.5L482.5,15" fill="none" stroke="#4d4d4d" stroke-width="1.1"/>
<path d="M479.5,2V11.5" stroke="#1a6a9a" stroke-width="1.3"/>
<path d="M481,7.5H485 M483.4,5.7L481,7.5L483.4,9.3" fill="none" stroke="#d03a10" stroke-width="1.2"/>
<rect x="494" y="0" width="1" height="18" fill="#a0a0a0" shape-rendering="crispEdges"/>
<path d="M504.5,0.5H512L515.5,4V13.5H504.5Z" fill="#fff" stroke="#8c8c8c"/>
<path d="M508.5,3.5C507,3.3 507,4.5 507,6V10 M506,6.5H508.5" fill="none" stroke="#6a6a6a" stroke-width="0.9"/>
<path d="M512,6.5H516V10H519.5V14H516V17.5H512V14H508.5V10H512Z" fill="#2fd42f" stroke="#0b8f0b" stroke-width="0.8"/>
<polygon points="526,7 531.4,7 528.7,10" fill="#000"/>
<circle cx="549.8" cy="7.6" r="6.8" fill="#fff" stroke="#1f6fd2" stroke-width="2"/>
<circle cx="549.8" cy="7.6" r="5" fill="#f4f8ff" stroke="#9ec4f0" stroke-width="0.6"/>
<path d="M549.5,4V8H552.5" fill="none" stroke="#444" stroke-width="1"/>
<polygon points="565,7 570.4,7 567.7,10" fill="#000"/>
<rect x="581.5" y="1.5" width="15.5" height="13" fill="#fff" stroke="#4a86d6" stroke-width="1"/>
<rect x="581.5" y="1.5" width="15.5" height="2" fill="#6aa2e6"/>
<path d="M582,8.5H597" stroke="#4a86d6" stroke-width="0.8"/>
<path d="M583.5,7L586,6.2L588,5.2L590,6L592.5,5L595,5.4" fill="none" stroke="#a01c10" stroke-width="1.2"/>
<path d="M583.5,12.5L586,11.3L588,12.3L590.5,10.6L592.5,12L595,11" fill="none" stroke="#18901a" stroke-width="1.2"/>
<polygon points="604,7 609.4,7 606.7,10" fill="#000"/>
<rect x="615" y="0" width="1" height="20" fill="#a0a0a0" shape-rendering="crispEdges"/>
<rect x="619" y="0" width="3" height="1" fill="#a6a6a6" shape-rendering="crispEdges"/>
<rect x="619" y="2" width="3" height="1" fill="#a6a6a6" shape-rendering="crispEdges"/>
<rect x="619" y="4" width="3" height="1" fill="#a6a6a6" shape-rendering="crispEdges"/>
<rect x="619" y="6" width="3" height="1" fill="#a6a6a6" shape-rendering="crispEdges"/>
<rect x="619" y="8" width="3" height="1" fill="#a6a6a6" shape-rendering="crispEdges"/>
<rect x="619" y="10" width="3" height="1" fill="#a6a6a6" shape-rendering="crispEdges"/>
<rect x="619" y="12" width="3" height="1" fill="#a6a6a6" shape-rendering="crispEdges"/>
<rect x="619" y="14" width="3" height="1" fill="#a6a6a6" shape-rendering="crispEdges"/>
<rect x="619" y="16" width="3" height="1" fill="#a6a6a6" shape-rendering="crispEdges"/>
<rect x="625" y="0" width="1" height="18" fill="#a0a0a0" shape-rendering="crispEdges"/>
<rect x="626" y="0" width="24" height="18" fill="#f8f8f8"/>
<polygon points="633,1 633,12 635.6,9.7 638,15 639.8,14.2 637.5,9 641,8.7" fill="#454545"/>
<path d="M658,8.5H664 M667,8.5H673 M665.5,1V7 M665.5,10V16" stroke="#4d4d4d" stroke-width="1.1"/>
<rect x="682" y="0" width="1" height="18" fill="#a0a0a0" shape-rendering="crispEdges"/>
<path d="M699.5,2V15" stroke="#4d4d4d" stroke-width="1.2"/>
<path d="M722,8.5H734" stroke="#4d4d4d" stroke-width="1.2"/>
<path d="M749.5,15L762,3" stroke="#4d4d4d" stroke-width="1.2"/>
<path d="M776,9.5L784,3 M777.5,14L789,6.5 M778,8L779.5,12.5 M780.5,6L782,11 M783,4L784.5,9.5 M785.5,5L786.5,8 M787.5,0L788,4" fill="none" stroke="#4d4d4d" stroke-width="1"/>
<text x="786.8" y="16.5" font-size="6.5" font-weight="bold" fill="#333">E</text>
<path d="M805,1.5H818" stroke="#4d4d4d" stroke-width="1" stroke-dasharray="1 1"/>
<path d="M805,4.5H818" stroke="#4d4d4d" stroke-width="1" stroke-dasharray="1 1"/>
<path d="M805,8.5H818" stroke="#4d4d4d" stroke-width="1" stroke-dasharray="1 1"/>
<path d="M805,12.5H814" stroke="#4d4d4d" stroke-width="1" stroke-dasharray="1 1"/>
<text x="814.8" y="16.5" font-size="6.5" font-weight="bold" fill="#333">F</text>
<text x="835.2" y="13" font-size="12" fill="#5a5a5a">A</text>
<rect x="861.5" y="1.5" width="12" height="13" fill="none" stroke="#555" stroke-width="1" stroke-dasharray="1 1"/>
<text x="863.6" y="13" font-size="11.5" fill="#4a4a4a">T</text>
<polygon points="892.7,2 896,5 892.7,7 889.5,5" fill="#505050"/>
<polygon points="899.7,9.5 903,12 899.7,15 896.3,12" fill="#505050"/>
<path d="M891,8L893.5,11L898,6.5" fill="none" stroke="#505050" stroke-width="1.2"/>
<polygon points="909.5,7 914.9,7 912.2,10" fill="#000"/>
<rect x="921" y="0" width="1" height="20" fill="#a0a0a0" shape-rendering="crispEdges"/>
<rect x="925" y="0" width="3" height="1" fill="#a6a6a6" shape-rendering="crispEdges"/>
<rect x="925" y="2" width="3" height="1" fill="#a6a6a6" shape-rendering="crispEdges"/>
<rect x="925" y="4" width="3" height="1" fill="#a6a6a6" shape-rendering="crispEdges"/>
<rect x="925" y="6" width="3" height="1" fill="#a6a6a6" shape-rendering="crispEdges"/>
<rect x="925" y="8" width="3" height="1" fill="#a6a6a6" shape-rendering="crispEdges"/>
<rect x="925" y="10" width="3" height="1" fill="#a6a6a6" shape-rendering="crispEdges"/>
<rect x="925" y="12" width="3" height="1" fill="#a6a6a6" shape-rendering="crispEdges"/>
<rect x="925" y="14" width="3" height="1" fill="#a6a6a6" shape-rendering="crispEdges"/>
<rect x="925" y="16" width="3" height="1" fill="#a6a6a6" shape-rendering="crispEdges"/>
<text x="936.5" y="11.9" font-size="9.8" fill="#3c3c3c" textLength="12.5" lengthAdjust="spacingAndGlyphs">M1</text>
<text x="964.5" y="11.9" font-size="9.8" fill="#3c3c3c" textLength="12.5" lengthAdjust="spacingAndGlyphs">M5</text>
<text x="990.5" y="11.9" font-size="9.8" fill="#3c3c3c" textLength="17.5" lengthAdjust="spacingAndGlyphs">M15</text>
<text x="1018.8" y="11.9" font-size="9.8" fill="#3c3c3c" textLength="17.5" lengthAdjust="spacingAndGlyphs">M30</text>
<text x="1049.6" y="11.9" font-size="9.8" fill="#3c3c3c" textLength="11.4" lengthAdjust="spacingAndGlyphs">H1</text>
<rect x="1071" y="0" width="1" height="18" fill="#a0a0a0" shape-rendering="crispEdges"/>
<rect x="1072" y="0" width="24" height="18" fill="#f8f8f8"/>
<text x="1076.8" y="11.9" font-size="9.8" fill="#3c3c3c" textLength="12" lengthAdjust="spacingAndGlyphs">H4</text>
<text x="1105.7" y="11.9" font-size="9.8" fill="#3c3c3c" textLength="11.5" lengthAdjust="spacingAndGlyphs">D1</text>
<text x="1133.5" y="11.9" font-size="9.8" fill="#3c3c3c" textLength="13.3" lengthAdjust="spacingAndGlyphs">W1</text>
<text x="1159.5" y="11.9" font-size="9.8" fill="#3c3c3c" textLength="14.5" lengthAdjust="spacingAndGlyphs">MN</text>
<rect x="1182" y="0" width="1" height="20" fill="#a0a0a0" shape-rendering="crispEdges"/>
<path d="M1649.8,8.4L1645,12.8" stroke="#2a5ad6" stroke-width="2.4" stroke-linecap="round"/>
<circle cx="1652.7" cy="5.4" r="3.7" fill="#fbfbff" stroke="#2a5ad6" stroke-width="1.4"/>
<path d="M1669.7,9.6A4.9,4.4 0 1 1 1676,13.6L1672.6,16.3L1673.2,13.4A4.9,4.4 0 0 1 1669.7,9.6Z" fill="#dcdce8" stroke="#a4a4a4" stroke-width="0.8"/>
<circle cx="1683.5" cy="6" r="7.9" fill="#df2a12"/>
<text x="1680.1" y="10.2" font-size="12.5" fill="#fff">1</text>
</g>
</svg></body></html>
